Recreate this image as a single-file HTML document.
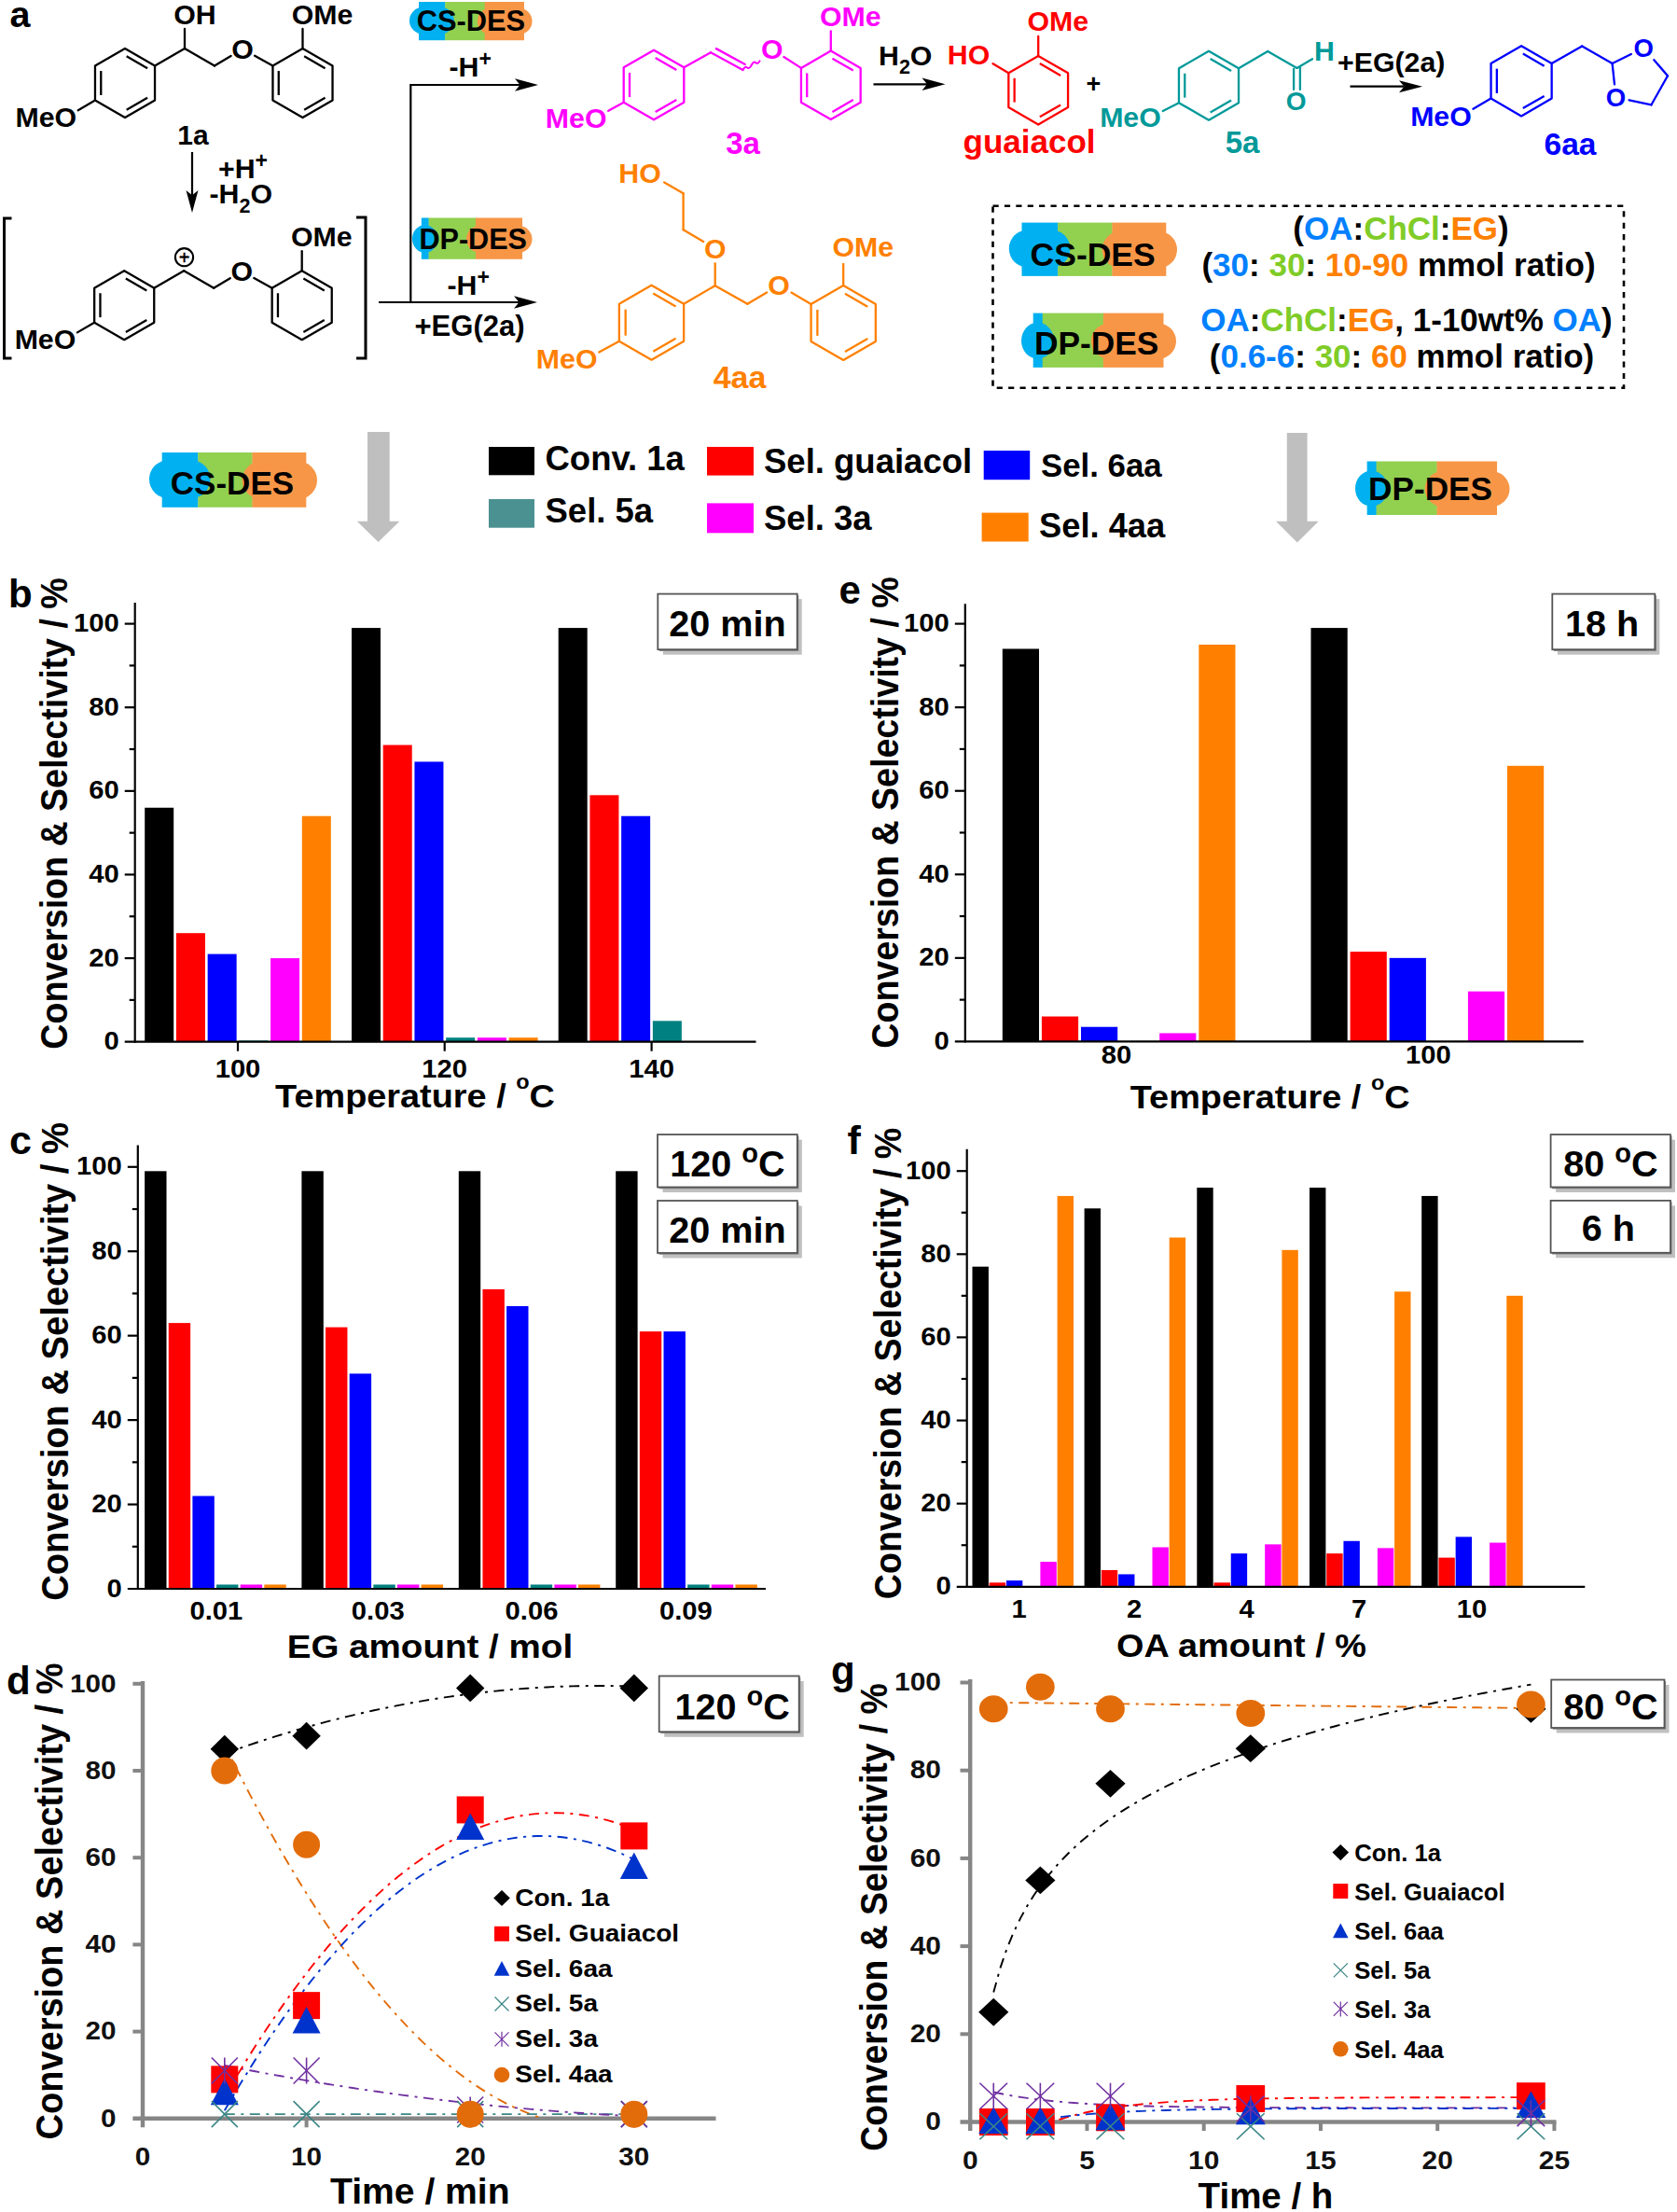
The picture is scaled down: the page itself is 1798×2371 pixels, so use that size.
<!DOCTYPE html>
<html><head><meta charset="utf-8"><title>Figure</title>
<style>
html,body{margin:0;padding:0;background:#fff;}
body{width:1798px;height:2371px;overflow:hidden;}
svg{display:block;font-family:'Liberation Sans', sans-serif;font-weight:bold;}
</style></head><body>
<svg width="1798" height="2371" viewBox="0 0 1798 2371">
<rect x="0" y="0" width="1798" height="2371" fill="#fff"/>
<polygon points="134,52 166.04,70.5 166.04,107.5 134,126 101.96,107.5 101.96,70.5" fill="none" stroke="#000" stroke-width="2.3" stroke-linejoin="round"/>
<line x1="135.66" y1="60.23" x2="158.09" y2="73.18" stroke="#000" stroke-width="2.3" stroke-linecap="butt" />
<line x1="158.09" y1="104.82" x2="135.66" y2="117.77" stroke="#000" stroke-width="2.3" stroke-linecap="butt" />
<line x1="108.26" y1="101.95" x2="108.26" y2="76.05" stroke="#000" stroke-width="2.3" stroke-linecap="butt" />
<line x1="166.04" y1="70.5" x2="198" y2="52" stroke="#000" stroke-width="2.3" stroke-linecap="round" />
<line x1="198" y1="52" x2="230" y2="70.5" stroke="#000" stroke-width="2.3" stroke-linecap="round" />
<line x1="230" y1="70.5" x2="247.57" y2="59.96" stroke="#000" stroke-width="2.3" stroke-linecap="round" />
<polygon points="324.5,52 356.54,70.5 356.54,107.5 324.5,126 292.46,107.5 292.46,70.5" fill="none" stroke="#000" stroke-width="2.3" stroke-linejoin="round"/>
<line x1="326.16" y1="60.23" x2="348.59" y2="73.18" stroke="#000" stroke-width="2.3" stroke-linecap="butt" />
<line x1="348.59" y1="104.82" x2="326.16" y2="117.77" stroke="#000" stroke-width="2.3" stroke-linecap="butt" />
<line x1="298.76" y1="101.95" x2="298.76" y2="76.05" stroke="#000" stroke-width="2.3" stroke-linecap="butt" />
<line x1="273.12" y1="59.77" x2="292.46" y2="70.5" stroke="#000" stroke-width="2.3" stroke-linecap="round" />
<text transform="translate(248.21,62.95)" font-size="30.3" fill="#000" text-anchor="start" font-weight="bold" >O</text>
<line x1="324.5" y1="52" x2="324.5" y2="31" stroke="#000" stroke-width="2.3" stroke-linecap="round" />
<text transform="translate(312.71,25.95)" font-size="30.3" fill="#000" text-anchor="start" font-weight="bold" >OMe</text>
<line x1="101.96" y1="107.5" x2="83.68" y2="118.18" stroke="#000" stroke-width="2.3" stroke-linecap="round" />
<text transform="translate(82.09,136.15)" font-size="30.3" fill="#000" text-anchor="end" font-weight="bold" >MeO</text>
<line x1="198" y1="52" x2="198" y2="31" stroke="#000" stroke-width="2.3" stroke-linecap="round" />
<text transform="translate(186.21,25.95)" font-size="30.3" fill="#000" text-anchor="start" font-weight="bold" >OH</text>
<text transform="translate(207,154.5)" font-size="30" fill="#000" text-anchor="middle" font-weight="bold" >1a</text>
<text transform="translate(10.5,28.5)" font-size="39.5" fill="#000" text-anchor="start" font-weight="bold" >a</text>
<line x1="206" y1="163" x2="206" y2="209.28" stroke="#000" stroke-width="2.2" stroke-linecap="butt" />
<polygon points="206,228 199.5,204 206,209.28 212.5,204" fill="#000"/>
<text transform="translate(234,190.5)" font-size="30.3" fill="#000" text-anchor="start" font-weight="bold" >+H<tspan dy="-11" font-size="23">+</tspan></text>
<text transform="translate(224.5,218)" font-size="30.3" fill="#000" text-anchor="start" font-weight="bold" >-H<tspan dy="9.5" font-size="21.5">2</tspan><tspan dy="-9.5">O</tspan></text>
<polygon points="133.2,290.2 165.24,308.7 165.24,345.7 133.2,364.2 101.16,345.7 101.16,308.7" fill="none" stroke="#000" stroke-width="2.3" stroke-linejoin="round"/>
<line x1="134.86" y1="298.43" x2="157.29" y2="311.38" stroke="#000" stroke-width="2.3" stroke-linecap="butt" />
<line x1="157.29" y1="343.02" x2="134.86" y2="355.97" stroke="#000" stroke-width="2.3" stroke-linecap="butt" />
<line x1="107.46" y1="340.15" x2="107.46" y2="314.25" stroke="#000" stroke-width="2.3" stroke-linecap="butt" />
<line x1="165.24" y1="308.7" x2="197.2" y2="290.2" stroke="#000" stroke-width="2.3" stroke-linecap="round" />
<line x1="197.2" y1="290.2" x2="229.2" y2="308.7" stroke="#000" stroke-width="2.3" stroke-linecap="round" />
<line x1="229.2" y1="308.7" x2="246.77" y2="298.16" stroke="#000" stroke-width="2.3" stroke-linecap="round" />
<polygon points="323.7,290.2 355.74,308.7 355.74,345.7 323.7,364.2 291.66,345.7 291.66,308.7" fill="none" stroke="#000" stroke-width="2.3" stroke-linejoin="round"/>
<line x1="325.36" y1="298.43" x2="347.79" y2="311.38" stroke="#000" stroke-width="2.3" stroke-linecap="butt" />
<line x1="347.79" y1="343.02" x2="325.36" y2="355.97" stroke="#000" stroke-width="2.3" stroke-linecap="butt" />
<line x1="297.96" y1="340.15" x2="297.96" y2="314.25" stroke="#000" stroke-width="2.3" stroke-linecap="butt" />
<line x1="272.32" y1="297.97" x2="291.66" y2="308.7" stroke="#000" stroke-width="2.3" stroke-linecap="round" />
<text transform="translate(247.41,301.15)" font-size="30.3" fill="#000" text-anchor="start" font-weight="bold" >O</text>
<line x1="323.7" y1="290.2" x2="323.7" y2="269.2" stroke="#000" stroke-width="2.3" stroke-linecap="round" />
<text transform="translate(311.91,264.15)" font-size="30.3" fill="#000" text-anchor="start" font-weight="bold" >OMe</text>
<line x1="101.16" y1="345.7" x2="82.88" y2="356.38" stroke="#000" stroke-width="2.3" stroke-linecap="round" />
<text transform="translate(81.29,374.35)" font-size="30.3" fill="#000" text-anchor="end" font-weight="bold" >MeO</text>
<circle cx="197.5" cy="275.7" r="9.6" fill="none" stroke="#000" stroke-width="2.1"/>
<text transform="translate(197.5,282.6)" font-size="20" fill="#000" text-anchor="middle" font-weight="normal" stroke="#000" stroke-width="0.5">+</text>
<polyline points="12.5,234 4.5,234 4.5,384 12.5,384" fill="none" stroke="#000" stroke-width="3" stroke-linejoin="miter"/>
<polyline points="382,233 392,233 392,384 382,384" fill="none" stroke="#000" stroke-width="3" stroke-linejoin="miter"/>
<line x1="406" y1="324" x2="440" y2="324" stroke="#000" stroke-width="2.2" stroke-linecap="butt" />
<line x1="440" y1="324" x2="556.5" y2="324" stroke="#000" stroke-width="2.2" stroke-linecap="butt" />
<polygon points="576,324 551,330.7 556.5,324 551,317.3" fill="#000"/>
<polyline points="440.3,325 440.3,91 470,91" fill="none" stroke="#000" stroke-width="2.2" stroke-linejoin="miter"/>
<line x1="465" y1="91" x2="557.5" y2="91" stroke="#000" stroke-width="2.2" stroke-linecap="butt" />
<polygon points="577,91 552,97.7 557.5,91 552,84.3" fill="#000"/>
<text transform="translate(481.5,82)" font-size="30.3" fill="#000" text-anchor="start" font-weight="bold" >-H<tspan dy="-11" font-size="23">+</tspan></text>
<text transform="translate(479.5,315.5)" font-size="30.3" fill="#000" text-anchor="start" font-weight="bold" >-H<tspan dy="-11" font-size="23">+</tspan></text>
<text transform="translate(444.5,360)" font-size="31" fill="#000" text-anchor="start" font-weight="bold" >+EG(2a)</text>
<polygon points="701,53.7 733.3,72.35 733.3,109.65 701,128.3 668.7,109.65 668.7,72.35" fill="none" stroke="#FF00FF" stroke-width="2.3" stroke-linejoin="round"/>
<line x1="702.7" y1="61.95" x2="725.31" y2="75.01" stroke="#FF00FF" stroke-width="2.3" stroke-linecap="butt" />
<line x1="725.31" y1="106.99" x2="702.7" y2="120.05" stroke="#FF00FF" stroke-width="2.3" stroke-linecap="butt" />
<line x1="675" y1="104.05" x2="675" y2="77.94" stroke="#FF00FF" stroke-width="2.3" stroke-linecap="butt" />
<line x1="733.3" y1="72.35" x2="762" y2="56.3" stroke="#FF00FF" stroke-width="2.3" stroke-linecap="round" />
<line x1="762" y1="56.3" x2="796.5" y2="75" stroke="#FF00FF" stroke-width="2.3" stroke-linecap="round" />
<line x1="767.84" y1="52.13" x2="798.82" y2="68.92" stroke="#FF00FF" stroke-width="2.3" stroke-linecap="round" />
<path d="M796.5,75 q2.2,-4.6 4.6,-2.6 t4.6,-2.6 t4.6,-2.6 t4.6,-2.6" fill="none" stroke="#FF00FF" stroke-width="2"/>
<polygon points="890.8,54.5 922.67,72.9 922.67,109.7 890.8,128.1 858.93,109.7 858.93,72.9" fill="none" stroke="#FF00FF" stroke-width="2.3" stroke-linejoin="round"/>
<line x1="892.43" y1="62.72" x2="914.74" y2="75.6" stroke="#FF00FF" stroke-width="2.3" stroke-linecap="butt" />
<line x1="914.74" y1="107" x2="892.43" y2="119.88" stroke="#FF00FF" stroke-width="2.3" stroke-linecap="butt" />
<line x1="865.23" y1="104.18" x2="865.23" y2="78.42" stroke="#FF00FF" stroke-width="2.3" stroke-linecap="butt" />
<line x1="840.42" y1="61.01" x2="858.93" y2="72.9" stroke="#FF00FF" stroke-width="2.3" stroke-linecap="round" />
<text transform="translate(816.01,63.35)" font-size="30.3" fill="#FF00FF" text-anchor="start" font-weight="bold" >O</text>
<line x1="890.8" y1="54.5" x2="890.8" y2="33.5" stroke="#FF00FF" stroke-width="2.3" stroke-linecap="round" />
<text transform="translate(879.01,27.65)" font-size="30.3" fill="#FF00FF" text-anchor="start" font-weight="bold" >OMe</text>
<line x1="668.7" y1="109.65" x2="652.23" y2="118.84" stroke="#FF00FF" stroke-width="2.3" stroke-linecap="round" />
<text transform="translate(650.49,136.55)" font-size="30.3" fill="#FF00FF" text-anchor="end" font-weight="bold" >MeO</text>
<text transform="translate(796.5,164.8)" font-size="33" fill="#FF00FF" text-anchor="middle" font-weight="bold" >3a</text>
<line x1="936.5" y1="90.3" x2="994" y2="90.3" stroke="#000" stroke-width="2.2" stroke-linecap="butt" />
<polygon points="1013.5,90.3 988.5,97 994,90.3 988.5,83.6" fill="#000"/>
<text transform="translate(942,69.8)" font-size="30.3" fill="#000" text-anchor="start" font-weight="bold" >H<tspan dy="9.5" font-size="21.5">2</tspan><tspan dy="-9.5">O</tspan></text>
<polygon points="1113.2,59.9 1145.07,78.3 1145.07,115.1 1113.2,133.5 1081.33,115.1 1081.33,78.3" fill="none" stroke="#FF0000" stroke-width="2.3" stroke-linejoin="round"/>
<line x1="1114.83" y1="68.12" x2="1137.14" y2="81" stroke="#FF0000" stroke-width="2.3" stroke-linecap="butt" />
<line x1="1137.14" y1="112.4" x2="1114.83" y2="125.28" stroke="#FF0000" stroke-width="2.3" stroke-linecap="butt" />
<line x1="1087.63" y1="109.58" x2="1087.63" y2="83.82" stroke="#FF0000" stroke-width="2.3" stroke-linecap="butt" />
<line x1="1113.2" y1="59.9" x2="1113.2" y2="38.9" stroke="#FF0000" stroke-width="2.3" stroke-linecap="round" />
<text transform="translate(1101.41,32.85)" font-size="30.3" fill="#FF0000" text-anchor="start" font-weight="bold" >OMe</text>
<line x1="1081.33" y1="78.3" x2="1064.51" y2="68.2" stroke="#FF0000" stroke-width="2.3" stroke-linecap="round" />
<text transform="translate(1061.29,69.35)" font-size="30.3" fill="#FF0000" text-anchor="end" font-weight="bold" >HO</text>
<text transform="translate(1103.5,163.5)" font-size="35" fill="#FF0000" text-anchor="middle" font-weight="bold" >guaiacol</text>
<text transform="translate(1172.5,99)" font-size="27" fill="#000" text-anchor="middle" font-weight="bold" >+</text>
<polygon points="1296,54.7 1328.04,73.2 1328.04,110.2 1296,128.7 1263.96,110.2 1263.96,73.2" fill="none" stroke="#009999" stroke-width="2.3" stroke-linejoin="round"/>
<line x1="1297.66" y1="62.93" x2="1320.09" y2="75.88" stroke="#009999" stroke-width="2.3" stroke-linecap="butt" />
<line x1="1320.09" y1="107.52" x2="1297.66" y2="120.47" stroke="#009999" stroke-width="2.3" stroke-linecap="butt" />
<line x1="1270.26" y1="104.65" x2="1270.26" y2="78.75" stroke="#009999" stroke-width="2.3" stroke-linecap="butt" />
<line x1="1328.04" y1="73.2" x2="1359.2" y2="55" stroke="#009999" stroke-width="2.3" stroke-linecap="round" />
<line x1="1359.2" y1="55" x2="1390.5" y2="72.9" stroke="#009999" stroke-width="2.3" stroke-linecap="round" />
<line x1="1387.1" y1="73.9" x2="1387.1" y2="95.9" stroke="#009999" stroke-width="2.3" stroke-linecap="round" />
<line x1="1393.9" y1="71.9" x2="1393.9" y2="95.9" stroke="#009999" stroke-width="2.3" stroke-linecap="round" />
<text transform="translate(1378.81,117.96)" font-size="28" fill="#009999" text-anchor="start" font-weight="bold" >O</text>
<line x1="1390.5" y1="72.9" x2="1407" y2="63.3" stroke="#009999" stroke-width="2.3" stroke-linecap="round" />
<text transform="translate(1409,64.5)" font-size="30.3" fill="#009999" text-anchor="start" font-weight="bold" >H</text>
<line x1="1263.96" y1="110.2" x2="1246.77" y2="119.08" stroke="#009999" stroke-width="2.3" stroke-linecap="round" />
<text transform="translate(1244.79,136.35)" font-size="30.3" fill="#009999" text-anchor="end" font-weight="bold" >MeO</text>
<text transform="translate(1332,164.3)" font-size="33" fill="#009999" text-anchor="middle" font-weight="bold" >5a</text>
<text transform="translate(1434,76.5)" font-size="30.3" fill="#000" text-anchor="start" font-weight="bold" >+EG(2a)</text>
<line x1="1447.5" y1="92.7" x2="1505.5" y2="92.7" stroke="#000" stroke-width="2.2" stroke-linecap="butt" />
<polygon points="1525,92.7 1500,99.2 1505.5,92.7 1500,86.2" fill="#000"/>
<polygon points="1631.1,49.2 1663.66,68 1663.66,105.6 1631.1,124.4 1598.54,105.6 1598.54,68" fill="none" stroke="#0000FF" stroke-width="2.3" stroke-linejoin="round"/>
<line x1="1632.83" y1="57.48" x2="1655.63" y2="70.64" stroke="#0000FF" stroke-width="2.3" stroke-linecap="butt" />
<line x1="1655.63" y1="102.96" x2="1632.83" y2="116.12" stroke="#0000FF" stroke-width="2.3" stroke-linecap="butt" />
<line x1="1604.84" y1="99.96" x2="1604.84" y2="73.64" stroke="#0000FF" stroke-width="2.3" stroke-linecap="butt" />
<line x1="1663.66" y1="68" x2="1696.2" y2="49.5" stroke="#0000FF" stroke-width="2.3" stroke-linecap="round" />
<line x1="1696.2" y1="49.5" x2="1728.6" y2="68" stroke="#0000FF" stroke-width="2.3" stroke-linecap="round" />
<line x1="1728.6" y1="68" x2="1748.86" y2="57.96" stroke="#0000FF" stroke-width="2.3" stroke-linecap="round" />
<line x1="1728.6" y1="68" x2="1731" y2="90.38" stroke="#0000FF" stroke-width="2.3" stroke-linecap="round" />
<line x1="1773.36" y1="64.21" x2="1788" y2="81.3" stroke="#0000FF" stroke-width="2.3" stroke-linecap="round" />
<line x1="1788" y1="81.3" x2="1770.5" y2="112.3" stroke="#0000FF" stroke-width="2.3" stroke-linecap="round" />
<line x1="1746.69" y1="107.29" x2="1770.5" y2="112.3" stroke="#0000FF" stroke-width="2.3" stroke-linecap="round" />
<text transform="translate(1751.6,60.79)" font-size="27.5" fill="#0000FF" text-anchor="start" font-weight="bold" >O</text>
<text transform="translate(1721.8,113.79)" font-size="27.5" fill="#0000FF" text-anchor="start" font-weight="bold" >O</text>
<line x1="1598.54" y1="105.6" x2="1579.4" y2="116.71" stroke="#0000FF" stroke-width="2.3" stroke-linecap="round" />
<text transform="translate(1577.79,134.65)" font-size="30.3" fill="#0000FF" text-anchor="end" font-weight="bold" >MeO</text>
<text transform="translate(1683.5,165.5)" font-size="33.5" fill="#0000FF" text-anchor="middle" font-weight="bold" >6aa</text>
<polygon points="698.5,305.7 733.14,325.7 733.14,365.7 698.5,385.7 663.86,365.7 663.86,325.7" fill="none" stroke="#FF8000" stroke-width="2.3" stroke-linejoin="round"/>
<line x1="700.3" y1="314.59" x2="724.54" y2="328.59" stroke="#FF8000" stroke-width="2.3" stroke-linecap="butt" />
<line x1="724.54" y1="362.81" x2="700.3" y2="376.81" stroke="#FF8000" stroke-width="2.3" stroke-linecap="butt" />
<line x1="670.66" y1="359.7" x2="670.66" y2="331.7" stroke="#FF8000" stroke-width="2.3" stroke-linecap="butt" />
<line x1="733.14" y1="325.7" x2="766.7" y2="306.2" stroke="#FF8000" stroke-width="2.3" stroke-linecap="round" />
<line x1="766.7" y1="306.2" x2="766.7" y2="282.3" stroke="#FF8000" stroke-width="2.3" stroke-linecap="round" />
<text transform="translate(754.91,276.75)" font-size="30.3" fill="#FF8000" text-anchor="start" font-weight="bold" >O</text>
<line x1="754.19" y1="258.96" x2="732.6" y2="246.3" stroke="#FF8000" stroke-width="2.3" stroke-linecap="round" />
<line x1="732.6" y1="246.3" x2="732.6" y2="207.2" stroke="#FF8000" stroke-width="2.3" stroke-linecap="round" />
<line x1="732.6" y1="207.2" x2="712.17" y2="195.43" stroke="#FF8000" stroke-width="2.3" stroke-linecap="round" />
<text transform="translate(708.79,196.35)" font-size="30.3" fill="#FF8000" text-anchor="end" font-weight="bold" >HO</text>
<line x1="766.7" y1="306.2" x2="801.4" y2="325.8" stroke="#FF8000" stroke-width="2.3" stroke-linecap="round" />
<line x1="801.4" y1="325.8" x2="822.11" y2="313.47" stroke="#FF8000" stroke-width="2.3" stroke-linecap="round" />
<text transform="translate(823.21,316.25)" font-size="30.3" fill="#FF8000" text-anchor="start" font-weight="bold" >O</text>
<polygon points="904.2,305.9 938.84,325.9 938.84,365.9 904.2,385.9 869.56,365.9 869.56,325.9" fill="none" stroke="#FF8000" stroke-width="2.3" stroke-linejoin="round"/>
<line x1="906" y1="314.79" x2="930.24" y2="328.79" stroke="#FF8000" stroke-width="2.3" stroke-linecap="butt" />
<line x1="930.24" y1="363.01" x2="906" y2="377.01" stroke="#FF8000" stroke-width="2.3" stroke-linecap="butt" />
<line x1="876.36" y1="359.9" x2="876.36" y2="331.9" stroke="#FF8000" stroke-width="2.3" stroke-linecap="butt" />
<line x1="848.4" y1="313.59" x2="869.56" y2="325.9" stroke="#FF8000" stroke-width="2.3" stroke-linecap="round" />
<line x1="904.2" y1="305.9" x2="904.2" y2="282.9" stroke="#FF8000" stroke-width="2.3" stroke-linecap="round" />
<text transform="translate(892.41,275.35)" font-size="30.3" fill="#FF8000" text-anchor="start" font-weight="bold" >OMe</text>
<line x1="663.86" y1="365.7" x2="642.29" y2="377.54" stroke="#FF8000" stroke-width="2.3" stroke-linecap="round" />
<text transform="translate(640.49,395.15)" font-size="30.3" fill="#FF8000" text-anchor="end" font-weight="bold" >MeO</text>
<text transform="translate(793,416)" font-size="34" fill="#FF8000" text-anchor="middle" font-weight="bold" >4aa</text>
<rect x="449" y="2" width="28.47" height="41.2" fill="#00B0F0" stroke="none" stroke-width="0" />
<rect x="477.17" y="2" width="42.84" height="41.2" fill="#92D050" stroke="none" stroke-width="0" />
<rect x="519.71" y="2" width="42.25" height="41.2" fill="#F79646" stroke="none" stroke-width="0" />
<rect x="439" y="7.68" width="47.8" height="28.76" rx="14.38" ry="14.38" fill="#00B0F0"/>
<rect x="511.83" y="8.69" width="58.67" height="28.33" rx="14.16" ry="14.16" fill="#F79646"/>
<text transform="translate(504.96,32.75)" font-size="30.8" fill="#000" text-anchor="middle" font-weight="bold" >CS-DES</text>
<rect x="451.83" y="233.5" width="8.04" height="44.3" fill="#00B0F0" stroke="none" stroke-width="0" />
<rect x="459.57" y="233.5" width="50.69" height="44.3" fill="#92D050" stroke="none" stroke-width="0" />
<rect x="509.97" y="233.5" width="50.08" height="44.3" fill="#F79646" stroke="none" stroke-width="0" />
<rect x="442" y="241.17" width="27.09" height="29.56" rx="14.78" ry="14.78" fill="#00B0F0"/>
<rect x="499.98" y="241.93" width="70.52" height="28.8" rx="14.4" ry="14.4" fill="#F79646"/>
<text transform="translate(507.22,266.7)" font-size="30.6" fill="#000" text-anchor="middle" font-weight="bold" >DP-DES</text>
<rect x="1064.5" y="220.8" width="676.5" height="195" fill="none" stroke="#000" stroke-width="2.6" stroke-dasharray="6.2,6.2"/>
<rect x="1095.5" y="238.6" width="38.9" height="57.3" fill="#00B0F0" stroke="none" stroke-width="0" />
<rect x="1134.1" y="238.6" width="58.6" height="57.3" fill="#92D050" stroke="none" stroke-width="0" />
<rect x="1192.4" y="238.6" width="57.9" height="57.3" fill="#F79646" stroke="none" stroke-width="0" />
<rect x="1081.8" y="246.5" width="65.5" height="40" rx="20" ry="20" fill="#00B0F0"/>
<rect x="1181.6" y="247.9" width="80.4" height="39.4" rx="19.7" ry="19.7" fill="#F79646"/>
<text transform="translate(1171.66,284.75)" font-size="35.5" fill="#000" text-anchor="middle" font-weight="bold" >CS-DES</text>
<rect x="1107.7" y="335.6" width="10.3" height="58.3" fill="#00B0F0" stroke="none" stroke-width="0" />
<rect x="1117.7" y="335.6" width="65.4" height="58.3" fill="#92D050" stroke="none" stroke-width="0" />
<rect x="1182.8" y="335.6" width="64.7" height="58.3" fill="#F79646" stroke="none" stroke-width="0" />
<rect x="1095" y="345.7" width="35" height="38.9" rx="19.45" ry="19.45" fill="#00B0F0"/>
<rect x="1169.9" y="346.7" width="91.1" height="37.9" rx="18.95" ry="18.95" fill="#F79646"/>
<text transform="translate(1175.71,379.83)" font-size="35.3" fill="#000" text-anchor="middle" font-weight="bold" >DP-DES</text>
<text transform="translate(1502,256.5)" font-size="35" fill="#000" text-anchor="middle" font-weight="bold" >(<tspan fill="#0080FF">OA</tspan>:<tspan fill="#80CC28">ChCl</tspan>:<tspan fill="#FF8000">EG</tspan>)</text>
<text transform="translate(1499.5,295.5)" font-size="35" fill="#000" text-anchor="middle" font-weight="bold" >(<tspan fill="#0080FF">30</tspan>: <tspan fill="#80CC28">30</tspan>: <tspan fill="#FF8000">10-90</tspan> mmol ratio)</text>
<text transform="translate(1508,354.5)" font-size="35" fill="#000" text-anchor="middle" font-weight="bold" ><tspan fill="#0080FF">OA</tspan>:<tspan fill="#80CC28">ChCl</tspan>:<tspan fill="#FF8000">EG</tspan>, 1-10wt% <tspan fill="#0080FF">OA</tspan>)</text>
<text transform="translate(1503,394)" font-size="35" fill="#000" text-anchor="middle" font-weight="bold" >(<tspan fill="#0080FF">0.6-6</tspan>: <tspan fill="#80CC28">30</tspan>: <tspan fill="#FF8000">60</tspan> mmol ratio)</text>
<rect x="173.68" y="485" width="38.86" height="58.8" fill="#00B0F0" stroke="none" stroke-width="0" />
<rect x="212.24" y="485" width="58.54" height="58.8" fill="#92D050" stroke="none" stroke-width="0" />
<rect x="270.48" y="485" width="57.84" height="58.8" fill="#F79646" stroke="none" stroke-width="0" />
<rect x="160" y="493.11" width="65.43" height="41.05" rx="20.52" ry="20.52" fill="#00B0F0"/>
<rect x="259.69" y="494.54" width="80.31" height="40.43" rx="20.22" ry="20.22" fill="#F79646"/>
<text transform="translate(248.96,530.25)" font-size="35" fill="#000" text-anchor="middle" font-weight="bold" >CS-DES</text>
<rect x="1465.66" y="494.5" width="10.27" height="57.5" fill="#00B0F0" stroke="none" stroke-width="0" />
<rect x="1475.63" y="494.5" width="65.2" height="57.5" fill="#92D050" stroke="none" stroke-width="0" />
<rect x="1540.54" y="494.5" width="64.51" height="57.5" fill="#F79646" stroke="none" stroke-width="0" />
<rect x="1453" y="504.46" width="34.89" height="38.37" rx="19.18" ry="19.18" fill="#00B0F0"/>
<rect x="1527.67" y="505.45" width="90.83" height="37.38" rx="18.69" ry="18.69" fill="#F79646"/>
<text transform="translate(1533.57,536.34)" font-size="35.2" fill="#000" text-anchor="middle" font-weight="bold" >DP-DES</text>
<polygon points="394,463 417.7,463 417.7,558.8 428.4,558.8 405.6,581 382.8,558.8 394,558.8" fill="#BFBFBF"/>
<polygon points="1379.8,464 1401.6,464 1401.6,558.7 1413.7,558.7 1390.85,581.5 1368,558.7 1379.8,558.7" fill="#BFBFBF"/>
<rect x="524" y="479" width="49" height="30.3" fill="#000000" stroke="none" stroke-width="0" />
<text transform="translate(584.5,504.3)" font-size="36.5" fill="#000" text-anchor="start" font-weight="bold" >Conv. 1a</text>
<rect x="524" y="535" width="49" height="30.7" fill="#4B9191" stroke="none" stroke-width="0" />
<text transform="translate(584.5,560.3)" font-size="36.5" fill="#000" text-anchor="start" font-weight="bold" >Sel. 5a</text>
<rect x="758" y="479" width="50" height="30.6" fill="#FF0000" stroke="none" stroke-width="0" />
<text transform="translate(819,506.6)" font-size="36.5" fill="#000" text-anchor="start" font-weight="bold" >Sel. guaiacol</text>
<rect x="758" y="539.4" width="50" height="31.9" fill="#FF00FF" stroke="none" stroke-width="0" />
<text transform="translate(819,567.8)" font-size="36.5" fill="#000" text-anchor="start" font-weight="bold" >Sel. 3a</text>
<rect x="1054.7" y="483" width="49.5" height="31.2" fill="#0000FF" stroke="none" stroke-width="0" />
<text transform="translate(1116,510.7)" font-size="34.8" fill="#000" text-anchor="start" font-weight="bold" >Sel. 6aa</text>
<rect x="1052.6" y="549.6" width="50.1" height="30.9" fill="#FF8000" stroke="none" stroke-width="0" />
<text transform="translate(1114,576.4)" font-size="36.3" fill="#000" text-anchor="start" font-weight="bold" >Sel. 4aa</text>
<rect x="155.2" y="865.76" width="31" height="250.94" fill="#000000" stroke="none" stroke-width="0" />
<rect x="188.92" y="1000.19" width="31" height="116.51" fill="#FF0000" stroke="none" stroke-width="0" />
<rect x="222.64" y="1022.6" width="31" height="94.1" fill="#0000FF" stroke="none" stroke-width="0" />
<rect x="256.36" y="1115.36" width="31" height="1.34" fill="#008080" stroke="none" stroke-width="0" />
<rect x="290.08" y="1027.08" width="31" height="89.62" fill="#FF00FF" stroke="none" stroke-width="0" />
<rect x="323.8" y="874.73" width="31" height="241.97" fill="#FF8000" stroke="none" stroke-width="0" />
<rect x="377" y="673.08" width="31" height="443.62" fill="#000000" stroke="none" stroke-width="0" />
<rect x="410.72" y="798.55" width="31" height="318.15" fill="#FF0000" stroke="none" stroke-width="0" />
<rect x="444.44" y="816.47" width="31" height="300.23" fill="#0000FF" stroke="none" stroke-width="0" />
<rect x="478.16" y="1112.22" width="31" height="4.48" fill="#008080" stroke="none" stroke-width="0" />
<rect x="511.88" y="1112.22" width="31" height="4.48" fill="#FF00FF" stroke="none" stroke-width="0" />
<rect x="545.6" y="1112.22" width="31" height="4.48" fill="#FF8000" stroke="none" stroke-width="0" />
<rect x="598.7" y="673.08" width="31" height="443.62" fill="#000000" stroke="none" stroke-width="0" />
<rect x="632.42" y="852.32" width="31" height="264.38" fill="#FF0000" stroke="none" stroke-width="0" />
<rect x="666.14" y="874.73" width="31" height="241.97" fill="#0000FF" stroke="none" stroke-width="0" />
<rect x="699.86" y="1094.3" width="31" height="22.4" fill="#008080" stroke="none" stroke-width="0" />
<line x1="144.7" y1="646" x2="144.7" y2="1117.8" stroke="#000" stroke-width="2.2" stroke-linecap="butt" />
<line x1="133.7" y1="1116.7" x2="810.5" y2="1116.7" stroke="#000" stroke-width="2.2" stroke-linecap="butt" />
<text transform="translate(127.7,1125.2) scale(1.07,1)" font-size="27.3" fill="#000" text-anchor="end" font-weight="bold" >0</text>
<line x1="138.7" y1="1071.89" x2="144.7" y2="1071.89" stroke="#000" stroke-width="2.2" stroke-linecap="butt" />
<line x1="133.7" y1="1027.08" x2="144.7" y2="1027.08" stroke="#000" stroke-width="2.2" stroke-linecap="butt" />
<text transform="translate(127.7,1035.58) scale(1.07,1)" font-size="27.3" fill="#000" text-anchor="end" font-weight="bold" >20</text>
<line x1="138.7" y1="982.27" x2="144.7" y2="982.27" stroke="#000" stroke-width="2.2" stroke-linecap="butt" />
<line x1="133.7" y1="937.46" x2="144.7" y2="937.46" stroke="#000" stroke-width="2.2" stroke-linecap="butt" />
<text transform="translate(127.7,945.96) scale(1.07,1)" font-size="27.3" fill="#000" text-anchor="end" font-weight="bold" >40</text>
<line x1="138.7" y1="892.65" x2="144.7" y2="892.65" stroke="#000" stroke-width="2.2" stroke-linecap="butt" />
<line x1="133.7" y1="847.84" x2="144.7" y2="847.84" stroke="#000" stroke-width="2.2" stroke-linecap="butt" />
<text transform="translate(127.7,856.34) scale(1.07,1)" font-size="27.3" fill="#000" text-anchor="end" font-weight="bold" >60</text>
<line x1="138.7" y1="803.03" x2="144.7" y2="803.03" stroke="#000" stroke-width="2.2" stroke-linecap="butt" />
<line x1="133.7" y1="758.22" x2="144.7" y2="758.22" stroke="#000" stroke-width="2.2" stroke-linecap="butt" />
<text transform="translate(127.7,766.72) scale(1.07,1)" font-size="27.3" fill="#000" text-anchor="end" font-weight="bold" >80</text>
<line x1="138.7" y1="713.41" x2="144.7" y2="713.41" stroke="#000" stroke-width="2.2" stroke-linecap="butt" />
<line x1="133.7" y1="668.6" x2="144.7" y2="668.6" stroke="#000" stroke-width="2.2" stroke-linecap="butt" />
<text transform="translate(127.7,677.1) scale(1.07,1)" font-size="27.3" fill="#000" text-anchor="end" font-weight="bold" >100</text>
<line x1="255" y1="1116.7" x2="255" y2="1126.7" stroke="#000" stroke-width="2.2" stroke-linecap="butt" />
<text transform="translate(255,1155.2) scale(1.07,1)" font-size="27.3" fill="#000" text-anchor="middle" font-weight="bold" >100</text>
<line x1="476.7" y1="1116.7" x2="476.7" y2="1126.7" stroke="#000" stroke-width="2.2" stroke-linecap="butt" />
<text transform="translate(476.7,1155.2) scale(1.07,1)" font-size="27.3" fill="#000" text-anchor="middle" font-weight="bold" >120</text>
<line x1="698.6" y1="1116.7" x2="698.6" y2="1126.7" stroke="#000" stroke-width="2.2" stroke-linecap="butt" />
<text transform="translate(698.6,1155.2) scale(1.07,1)" font-size="27.3" fill="#000" text-anchor="middle" font-weight="bold" >140</text>
<text transform="translate(72.4,872) rotate(-90) scale(1,1.07)" font-size="37.6" fill="#000" text-anchor="middle" font-weight="bold" >Conversion &amp; Selectivity / %</text>
<text transform="translate(445,1187.3) scale(1.07,1)" font-size="35.4" fill="#000" text-anchor="middle" font-weight="bold" >Temperature / <tspan dy="-20" font-size="22">o</tspan><tspan dy="20">C</tspan></text>
<rect x="710.8" y="642.1" width="148.9" height="59.6" fill="#C0C0C0" stroke="none" stroke-width="0" />
<rect x="706.8" y="638.1" width="149.5" height="59.9" fill="#8A8A8A" stroke="none" stroke-width="0" />
<rect x="705.3" y="636.6" width="149.4" height="59.6" fill="#FFFFFF" stroke="#555555" stroke-width="1.8" />
<text transform="translate(780,682.06)" font-size="39.6" fill="#000" text-anchor="middle" font-weight="bold" >20 min</text>
<text transform="translate(9,651.3)" font-size="42" fill="#000" text-anchor="start" font-weight="bold" >b</text>
<rect x="155.1" y="1255.32" width="23.4" height="447.68" fill="#000000" stroke="none" stroke-width="0" />
<rect x="180.75" y="1418.11" width="23.4" height="284.89" fill="#FF0000" stroke="none" stroke-width="0" />
<rect x="206.4" y="1603.52" width="23.4" height="99.48" fill="#0000FF" stroke="none" stroke-width="0" />
<rect x="232.05" y="1698.48" width="23.4" height="4.52" fill="#008080" stroke="none" stroke-width="0" />
<rect x="257.7" y="1698.48" width="23.4" height="4.52" fill="#FF00FF" stroke="none" stroke-width="0" />
<rect x="283.35" y="1698.48" width="23.4" height="4.52" fill="#FF8000" stroke="none" stroke-width="0" />
<rect x="323.4" y="1255.32" width="23.4" height="447.68" fill="#000000" stroke="none" stroke-width="0" />
<rect x="349.05" y="1422.64" width="23.4" height="280.36" fill="#FF0000" stroke="none" stroke-width="0" />
<rect x="374.7" y="1472.38" width="23.4" height="230.62" fill="#0000FF" stroke="none" stroke-width="0" />
<rect x="400.35" y="1698.48" width="23.4" height="4.52" fill="#008080" stroke="none" stroke-width="0" />
<rect x="426" y="1698.48" width="23.4" height="4.52" fill="#FF00FF" stroke="none" stroke-width="0" />
<rect x="451.65" y="1698.48" width="23.4" height="4.52" fill="#FF8000" stroke="none" stroke-width="0" />
<rect x="491.8" y="1255.32" width="23.4" height="447.68" fill="#000000" stroke="none" stroke-width="0" />
<rect x="517.45" y="1381.94" width="23.4" height="321.06" fill="#FF0000" stroke="none" stroke-width="0" />
<rect x="543.1" y="1400.03" width="23.4" height="302.97" fill="#0000FF" stroke="none" stroke-width="0" />
<rect x="568.75" y="1698.48" width="23.4" height="4.52" fill="#008080" stroke="none" stroke-width="0" />
<rect x="594.4" y="1698.48" width="23.4" height="4.52" fill="#FF00FF" stroke="none" stroke-width="0" />
<rect x="620.05" y="1698.48" width="23.4" height="4.52" fill="#FF8000" stroke="none" stroke-width="0" />
<rect x="660.2" y="1255.32" width="23.4" height="447.68" fill="#000000" stroke="none" stroke-width="0" />
<rect x="685.85" y="1427.16" width="23.4" height="275.84" fill="#FF0000" stroke="none" stroke-width="0" />
<rect x="711.5" y="1427.16" width="23.4" height="275.84" fill="#0000FF" stroke="none" stroke-width="0" />
<rect x="737.15" y="1698.48" width="23.4" height="4.52" fill="#008080" stroke="none" stroke-width="0" />
<rect x="762.8" y="1698.48" width="23.4" height="4.52" fill="#FF00FF" stroke="none" stroke-width="0" />
<rect x="788.45" y="1698.48" width="23.4" height="4.52" fill="#FF8000" stroke="none" stroke-width="0" />
<line x1="147.8" y1="1227.6" x2="147.8" y2="1704.1" stroke="#000" stroke-width="2.2" stroke-linecap="butt" />
<line x1="136.8" y1="1703" x2="821" y2="1703" stroke="#000" stroke-width="2.2" stroke-linecap="butt" />
<text transform="translate(130.8,1711.5) scale(1.07,1)" font-size="27.3" fill="#000" text-anchor="end" font-weight="bold" >0</text>
<line x1="141.8" y1="1657.78" x2="147.8" y2="1657.78" stroke="#000" stroke-width="2.2" stroke-linecap="butt" />
<line x1="136.8" y1="1612.56" x2="147.8" y2="1612.56" stroke="#000" stroke-width="2.2" stroke-linecap="butt" />
<text transform="translate(130.8,1621.06) scale(1.07,1)" font-size="27.3" fill="#000" text-anchor="end" font-weight="bold" >20</text>
<line x1="141.8" y1="1567.34" x2="147.8" y2="1567.34" stroke="#000" stroke-width="2.2" stroke-linecap="butt" />
<line x1="136.8" y1="1522.12" x2="147.8" y2="1522.12" stroke="#000" stroke-width="2.2" stroke-linecap="butt" />
<text transform="translate(130.8,1530.62) scale(1.07,1)" font-size="27.3" fill="#000" text-anchor="end" font-weight="bold" >40</text>
<line x1="141.8" y1="1476.9" x2="147.8" y2="1476.9" stroke="#000" stroke-width="2.2" stroke-linecap="butt" />
<line x1="136.8" y1="1431.68" x2="147.8" y2="1431.68" stroke="#000" stroke-width="2.2" stroke-linecap="butt" />
<text transform="translate(130.8,1440.18) scale(1.07,1)" font-size="27.3" fill="#000" text-anchor="end" font-weight="bold" >60</text>
<line x1="141.8" y1="1386.46" x2="147.8" y2="1386.46" stroke="#000" stroke-width="2.2" stroke-linecap="butt" />
<line x1="136.8" y1="1341.24" x2="147.8" y2="1341.24" stroke="#000" stroke-width="2.2" stroke-linecap="butt" />
<text transform="translate(130.8,1349.74) scale(1.07,1)" font-size="27.3" fill="#000" text-anchor="end" font-weight="bold" >80</text>
<line x1="141.8" y1="1296.02" x2="147.8" y2="1296.02" stroke="#000" stroke-width="2.2" stroke-linecap="butt" />
<line x1="136.8" y1="1250.8" x2="147.8" y2="1250.8" stroke="#000" stroke-width="2.2" stroke-linecap="butt" />
<text transform="translate(130.8,1259.3) scale(1.07,1)" font-size="27.3" fill="#000" text-anchor="end" font-weight="bold" >100</text>
<text transform="translate(231.8,1735.5) scale(1.07,1)" font-size="27.3" fill="#000" text-anchor="middle" font-weight="bold" >0.01</text>
<text transform="translate(405.2,1735.5) scale(1.07,1)" font-size="27.3" fill="#000" text-anchor="middle" font-weight="bold" >0.03</text>
<text transform="translate(570,1735.5) scale(1.07,1)" font-size="27.3" fill="#000" text-anchor="middle" font-weight="bold" >0.06</text>
<text transform="translate(735.3,1735.5) scale(1.07,1)" font-size="27.3" fill="#000" text-anchor="middle" font-weight="bold" >0.09</text>
<text transform="translate(72.6,1459.5) rotate(-90) scale(1,1.07)" font-size="38.12" fill="#000" text-anchor="middle" font-weight="bold" >Conversion &amp; Selectivity / %</text>
<text transform="translate(460.9,1776.9) scale(1.09,1)" font-size="35.4" fill="#000" text-anchor="middle" font-weight="bold" >EG amount / mol</text>
<rect x="710.5" y="1221.6" width="149.3" height="56.4" fill="#C0C0C0" stroke="none" stroke-width="0" />
<rect x="706.5" y="1217.6" width="149.9" height="56.7" fill="#8A8A8A" stroke="none" stroke-width="0" />
<rect x="705" y="1216.1" width="149.8" height="56.4" fill="#FFFFFF" stroke="#555555" stroke-width="1.8" />
<text transform="translate(779.9,1261.26)" font-size="39.6" fill="#000" text-anchor="middle" font-weight="bold" >120 <tspan dy="-15" font-size="29">o</tspan><tspan dy="15">C</tspan></text>
<rect x="710.5" y="1292.5" width="149.3" height="56" fill="#C0C0C0" stroke="none" stroke-width="0" />
<rect x="706.5" y="1288.5" width="149.9" height="56.3" fill="#8A8A8A" stroke="none" stroke-width="0" />
<rect x="705" y="1287" width="149.8" height="56" fill="#FFFFFF" stroke="#555555" stroke-width="1.8" />
<text transform="translate(779.9,1331.96)" font-size="39.6" fill="#000" text-anchor="middle" font-weight="bold" >20 min</text>
<text transform="translate(10,1237)" font-size="43" fill="#000" text-anchor="start" font-weight="bold" >c</text>
<rect x="1074.8" y="695.47" width="39.2" height="420.93" fill="#000000" stroke="none" stroke-width="0" />
<rect x="1116.9" y="1089.53" width="39.2" height="26.87" fill="#FF0000" stroke="none" stroke-width="0" />
<rect x="1159" y="1100.73" width="39.2" height="15.67" fill="#0000FF" stroke="none" stroke-width="0" />
<rect x="1243.2" y="1107.44" width="39.2" height="8.96" fill="#FF00FF" stroke="none" stroke-width="0" />
<rect x="1285.3" y="690.99" width="39.2" height="425.41" fill="#FF8000" stroke="none" stroke-width="0" />
<rect x="1405.5" y="673.08" width="39.2" height="443.32" fill="#000000" stroke="none" stroke-width="0" />
<rect x="1447.6" y="1020.12" width="39.2" height="96.28" fill="#FF0000" stroke="none" stroke-width="0" />
<rect x="1489.7" y="1026.84" width="39.2" height="89.56" fill="#0000FF" stroke="none" stroke-width="0" />
<rect x="1573.9" y="1062.66" width="39.2" height="53.74" fill="#FF00FF" stroke="none" stroke-width="0" />
<rect x="1616" y="820.85" width="39.2" height="295.55" fill="#FF8000" stroke="none" stroke-width="0" />
<line x1="1034.8" y1="647.2" x2="1034.8" y2="1117.5" stroke="#000" stroke-width="2.2" stroke-linecap="butt" />
<line x1="1023.8" y1="1116.4" x2="1697.7" y2="1116.4" stroke="#000" stroke-width="2.2" stroke-linecap="butt" />
<text transform="translate(1017.8,1124.9) scale(1.07,1)" font-size="27.3" fill="#000" text-anchor="end" font-weight="bold" >0</text>
<line x1="1028.8" y1="1071.62" x2="1034.8" y2="1071.62" stroke="#000" stroke-width="2.2" stroke-linecap="butt" />
<line x1="1023.8" y1="1026.84" x2="1034.8" y2="1026.84" stroke="#000" stroke-width="2.2" stroke-linecap="butt" />
<text transform="translate(1017.8,1035.34) scale(1.07,1)" font-size="27.3" fill="#000" text-anchor="end" font-weight="bold" >20</text>
<line x1="1028.8" y1="982.06" x2="1034.8" y2="982.06" stroke="#000" stroke-width="2.2" stroke-linecap="butt" />
<line x1="1023.8" y1="937.28" x2="1034.8" y2="937.28" stroke="#000" stroke-width="2.2" stroke-linecap="butt" />
<text transform="translate(1017.8,945.78) scale(1.07,1)" font-size="27.3" fill="#000" text-anchor="end" font-weight="bold" >40</text>
<line x1="1028.8" y1="892.5" x2="1034.8" y2="892.5" stroke="#000" stroke-width="2.2" stroke-linecap="butt" />
<line x1="1023.8" y1="847.72" x2="1034.8" y2="847.72" stroke="#000" stroke-width="2.2" stroke-linecap="butt" />
<text transform="translate(1017.8,856.22) scale(1.07,1)" font-size="27.3" fill="#000" text-anchor="end" font-weight="bold" >60</text>
<line x1="1028.8" y1="802.94" x2="1034.8" y2="802.94" stroke="#000" stroke-width="2.2" stroke-linecap="butt" />
<line x1="1023.8" y1="758.16" x2="1034.8" y2="758.16" stroke="#000" stroke-width="2.2" stroke-linecap="butt" />
<text transform="translate(1017.8,766.66) scale(1.07,1)" font-size="27.3" fill="#000" text-anchor="end" font-weight="bold" >80</text>
<line x1="1028.8" y1="713.38" x2="1034.8" y2="713.38" stroke="#000" stroke-width="2.2" stroke-linecap="butt" />
<line x1="1023.8" y1="668.6" x2="1034.8" y2="668.6" stroke="#000" stroke-width="2.2" stroke-linecap="butt" />
<text transform="translate(1017.8,677.1) scale(1.07,1)" font-size="27.3" fill="#000" text-anchor="end" font-weight="bold" >100</text>
<text transform="translate(1197,1140.4) scale(1.07,1)" font-size="27.3" fill="#000" text-anchor="middle" font-weight="bold" >80</text>
<text transform="translate(1531.3,1140.4) scale(1.07,1)" font-size="27.3" fill="#000" text-anchor="middle" font-weight="bold" >100</text>
<text transform="translate(962.5,871) rotate(-90) scale(1,1.07)" font-size="37.6" fill="#000" text-anchor="middle" font-weight="bold" >Conversion &amp; Selectivity / %</text>
<text transform="translate(1361.7,1187.5) scale(1.07,1)" font-size="35.4" fill="#000" text-anchor="middle" font-weight="bold" >Temperature / <tspan dy="-20" font-size="22">o</tspan><tspan dy="20">C</tspan></text>
<rect x="1669.8" y="642.1" width="109.5" height="59.6" fill="#C0C0C0" stroke="none" stroke-width="0" />
<rect x="1665.8" y="638.1" width="110.1" height="59.9" fill="#8A8A8A" stroke="none" stroke-width="0" />
<rect x="1664.3" y="636.6" width="110" height="59.6" fill="#FFFFFF" stroke="#555555" stroke-width="1.8" />
<text transform="translate(1717.5,682.06)" font-size="39.6" fill="#000" text-anchor="middle" font-weight="bold" >18 h</text>
<text transform="translate(899.5,647)" font-size="42" fill="#000" text-anchor="start" font-weight="bold" >e</text>
<rect x="1042.5" y="1357.69" width="17.4" height="343.11" fill="#000000" stroke="none" stroke-width="0" />
<rect x="1060.72" y="1696.34" width="17.4" height="4.46" fill="#FF0000" stroke="none" stroke-width="0" />
<rect x="1078.94" y="1694.12" width="17.4" height="6.68" fill="#0000FF" stroke="none" stroke-width="0" />
<rect x="1115.38" y="1674.06" width="17.4" height="26.74" fill="#FF00FF" stroke="none" stroke-width="0" />
<rect x="1133.6" y="1281.94" width="17.4" height="418.86" fill="#FF8000" stroke="none" stroke-width="0" />
<rect x="1162.6" y="1295.3" width="17.4" height="405.5" fill="#000000" stroke="none" stroke-width="0" />
<rect x="1180.82" y="1682.98" width="17.4" height="17.82" fill="#FF0000" stroke="none" stroke-width="0" />
<rect x="1199.04" y="1687.43" width="17.4" height="13.37" fill="#0000FF" stroke="none" stroke-width="0" />
<rect x="1235.48" y="1658.47" width="17.4" height="42.33" fill="#FF00FF" stroke="none" stroke-width="0" />
<rect x="1253.7" y="1326.5" width="17.4" height="374.3" fill="#FF8000" stroke="none" stroke-width="0" />
<rect x="1283.3" y="1273.02" width="17.4" height="427.78" fill="#000000" stroke="none" stroke-width="0" />
<rect x="1301.52" y="1696.34" width="17.4" height="4.46" fill="#FF0000" stroke="none" stroke-width="0" />
<rect x="1319.74" y="1665.15" width="17.4" height="35.65" fill="#0000FF" stroke="none" stroke-width="0" />
<rect x="1356.18" y="1655.35" width="17.4" height="45.45" fill="#FF00FF" stroke="none" stroke-width="0" />
<rect x="1374.4" y="1339.86" width="17.4" height="360.94" fill="#FF8000" stroke="none" stroke-width="0" />
<rect x="1404" y="1273.02" width="17.4" height="427.78" fill="#000000" stroke="none" stroke-width="0" />
<rect x="1422.22" y="1665.15" width="17.4" height="35.65" fill="#FF0000" stroke="none" stroke-width="0" />
<rect x="1440.44" y="1651.78" width="17.4" height="49.02" fill="#0000FF" stroke="none" stroke-width="0" />
<rect x="1476.88" y="1659.36" width="17.4" height="41.44" fill="#FF00FF" stroke="none" stroke-width="0" />
<rect x="1495.1" y="1384.42" width="17.4" height="316.38" fill="#FF8000" stroke="none" stroke-width="0" />
<rect x="1524.2" y="1281.94" width="17.4" height="418.86" fill="#000000" stroke="none" stroke-width="0" />
<rect x="1542.42" y="1669.61" width="17.4" height="31.19" fill="#FF0000" stroke="none" stroke-width="0" />
<rect x="1560.64" y="1647.33" width="17.4" height="53.47" fill="#0000FF" stroke="none" stroke-width="0" />
<rect x="1597.08" y="1653.57" width="17.4" height="47.23" fill="#FF00FF" stroke="none" stroke-width="0" />
<rect x="1615.3" y="1388.88" width="17.4" height="311.92" fill="#FF8000" stroke="none" stroke-width="0" />
<line x1="1036.7" y1="1231.7" x2="1036.7" y2="1701.9" stroke="#000" stroke-width="2.2" stroke-linecap="butt" />
<line x1="1025.7" y1="1700.8" x2="1699.3" y2="1700.8" stroke="#000" stroke-width="2.2" stroke-linecap="butt" />
<text transform="translate(1019.7,1709.3) scale(1.07,1)" font-size="27.3" fill="#000" text-anchor="end" font-weight="bold" >0</text>
<line x1="1030.7" y1="1656.24" x2="1036.7" y2="1656.24" stroke="#000" stroke-width="2.2" stroke-linecap="butt" />
<line x1="1025.7" y1="1611.68" x2="1036.7" y2="1611.68" stroke="#000" stroke-width="2.2" stroke-linecap="butt" />
<text transform="translate(1019.7,1620.18) scale(1.07,1)" font-size="27.3" fill="#000" text-anchor="end" font-weight="bold" >20</text>
<line x1="1030.7" y1="1567.12" x2="1036.7" y2="1567.12" stroke="#000" stroke-width="2.2" stroke-linecap="butt" />
<line x1="1025.7" y1="1522.56" x2="1036.7" y2="1522.56" stroke="#000" stroke-width="2.2" stroke-linecap="butt" />
<text transform="translate(1019.7,1531.06) scale(1.07,1)" font-size="27.3" fill="#000" text-anchor="end" font-weight="bold" >40</text>
<line x1="1030.7" y1="1478" x2="1036.7" y2="1478" stroke="#000" stroke-width="2.2" stroke-linecap="butt" />
<line x1="1025.7" y1="1433.44" x2="1036.7" y2="1433.44" stroke="#000" stroke-width="2.2" stroke-linecap="butt" />
<text transform="translate(1019.7,1441.94) scale(1.07,1)" font-size="27.3" fill="#000" text-anchor="end" font-weight="bold" >60</text>
<line x1="1030.7" y1="1388.88" x2="1036.7" y2="1388.88" stroke="#000" stroke-width="2.2" stroke-linecap="butt" />
<line x1="1025.7" y1="1344.32" x2="1036.7" y2="1344.32" stroke="#000" stroke-width="2.2" stroke-linecap="butt" />
<text transform="translate(1019.7,1352.82) scale(1.07,1)" font-size="27.3" fill="#000" text-anchor="end" font-weight="bold" >80</text>
<line x1="1030.7" y1="1299.76" x2="1036.7" y2="1299.76" stroke="#000" stroke-width="2.2" stroke-linecap="butt" />
<line x1="1025.7" y1="1255.2" x2="1036.7" y2="1255.2" stroke="#000" stroke-width="2.2" stroke-linecap="butt" />
<text transform="translate(1019.7,1263.7) scale(1.07,1)" font-size="27.3" fill="#000" text-anchor="end" font-weight="bold" >100</text>
<text transform="translate(1092.5,1734.3) scale(1.07,1)" font-size="27.3" fill="#000" text-anchor="middle" font-weight="bold" >1</text>
<text transform="translate(1216,1734.3) scale(1.07,1)" font-size="27.3" fill="#000" text-anchor="middle" font-weight="bold" >2</text>
<text transform="translate(1336.5,1734.3) scale(1.07,1)" font-size="27.3" fill="#000" text-anchor="middle" font-weight="bold" >4</text>
<text transform="translate(1457,1734.3) scale(1.07,1)" font-size="27.3" fill="#000" text-anchor="middle" font-weight="bold" >7</text>
<text transform="translate(1578,1734.3) scale(1.07,1)" font-size="27.3" fill="#000" text-anchor="middle" font-weight="bold" >10</text>
<text transform="translate(966.3,1461.5) rotate(-90) scale(1,1.07)" font-size="37.6" fill="#000" text-anchor="middle" font-weight="bold" >Conversion &amp; Selectivity / %</text>
<text transform="translate(1331,1776) scale(1.07,1)" font-size="35.4" fill="#000" text-anchor="middle" font-weight="bold" >OA amount / %</text>
<rect x="1668.1" y="1221.6" width="127.9" height="56.4" fill="#C0C0C0" stroke="none" stroke-width="0" />
<rect x="1664.1" y="1217.6" width="128.5" height="56.7" fill="#8A8A8A" stroke="none" stroke-width="0" />
<rect x="1662.6" y="1216.1" width="128.4" height="56.4" fill="#FFFFFF" stroke="#555555" stroke-width="1.8" />
<text transform="translate(1726.8,1261.26)" font-size="39.6" fill="#000" text-anchor="middle" font-weight="bold" >80 <tspan dy="-15" font-size="29">o</tspan><tspan dy="15">C</tspan></text>
<rect x="1668.1" y="1292.4" width="127.9" height="55.9" fill="#C0C0C0" stroke="none" stroke-width="0" />
<rect x="1664.1" y="1288.4" width="128.5" height="56.2" fill="#8A8A8A" stroke="none" stroke-width="0" />
<rect x="1662.6" y="1286.9" width="128.4" height="55.9" fill="#FFFFFF" stroke="#555555" stroke-width="1.8" />
<text transform="translate(1724.3,1330.31)" font-size="39.6" fill="#000" text-anchor="middle" font-weight="bold" >6 h</text>
<text transform="translate(908.5,1236.5)" font-size="43" fill="#000" text-anchor="start" font-weight="bold" >f</text>
<line x1="153" y1="1802" x2="153" y2="2280.3" stroke="#868686" stroke-width="4.4" stroke-linecap="butt" />
<line x1="142.4" y1="2270.8" x2="767.5" y2="2270.8" stroke="#868686" stroke-width="4.4" stroke-linecap="butt" />
<line x1="142.4" y1="2177.6" x2="153" y2="2177.6" stroke="#868686" stroke-width="4" stroke-linecap="butt" />
<line x1="142.4" y1="2084.4" x2="153" y2="2084.4" stroke="#868686" stroke-width="4" stroke-linecap="butt" />
<line x1="142.4" y1="1991.2" x2="153" y2="1991.2" stroke="#868686" stroke-width="4" stroke-linecap="butt" />
<line x1="142.4" y1="1898" x2="153" y2="1898" stroke="#868686" stroke-width="4" stroke-linecap="butt" />
<line x1="142.4" y1="1804.8" x2="153" y2="1804.8" stroke="#868686" stroke-width="4" stroke-linecap="butt" />
<line x1="328.6" y1="2270.8" x2="328.6" y2="2280.3" stroke="#868686" stroke-width="4" stroke-linecap="butt" />
<line x1="504.2" y1="2270.8" x2="504.2" y2="2280.3" stroke="#868686" stroke-width="4" stroke-linecap="butt" />
<line x1="679.8" y1="2270.8" x2="679.8" y2="2280.3" stroke="#868686" stroke-width="4" stroke-linecap="butt" />
<text transform="translate(124.5,2279.5) scale(1.06,1)" font-size="28" fill="#111" text-anchor="end" font-weight="bold" >0</text>
<text transform="translate(124.5,2186.3) scale(1.06,1)" font-size="28" fill="#111" text-anchor="end" font-weight="bold" >20</text>
<text transform="translate(124.5,2093.1) scale(1.06,1)" font-size="28" fill="#111" text-anchor="end" font-weight="bold" >40</text>
<text transform="translate(124.5,1999.9) scale(1.06,1)" font-size="28" fill="#111" text-anchor="end" font-weight="bold" >60</text>
<text transform="translate(124.5,1906.7) scale(1.06,1)" font-size="28" fill="#111" text-anchor="end" font-weight="bold" >80</text>
<text transform="translate(124.5,1813.5) scale(1.06,1)" font-size="28" fill="#111" text-anchor="end" font-weight="bold" >100</text>
<text transform="translate(153,2320.6) scale(1.06,1)" font-size="28" fill="#111" text-anchor="middle" font-weight="bold" >0</text>
<text transform="translate(328.6,2320.6) scale(1.06,1)" font-size="28" fill="#111" text-anchor="middle" font-weight="bold" >10</text>
<text transform="translate(504.2,2320.6) scale(1.06,1)" font-size="28" fill="#111" text-anchor="middle" font-weight="bold" >20</text>
<text transform="translate(679.8,2320.6) scale(1.06,1)" font-size="28" fill="#111" text-anchor="middle" font-weight="bold" >30</text>
<polyline points="240.8,1870.09 246.29,1881.2 251.77,1892.16 257.26,1902.96 262.75,1913.62 268.24,1924.12 273.73,1934.47 279.21,1944.66 284.7,1954.71 290.19,1964.6 295.67,1974.34 301.16,1983.92 306.65,1993.35 312.14,2002.63 317.62,2011.76 323.11,2020.74 328.6,2029.56 334.09,2038.23 339.57,2046.74 345.06,2055.11 350.55,2063.32 356.04,2071.38 361.52,2079.28 367.01,2087.04 372.5,2094.64 377.99,2102.08 383.48,2109.38 388.96,2116.52 394.45,2123.51 399.94,2130.35 405.42,2137.03 410.91,2143.57 416.4,2149.94 421.89,2156.17 427.38,2162.24 432.86,2168.17 438.35,2173.93 443.84,2179.55 449.32,2185.01 454.81,2190.32 460.3,2195.48 465.79,2200.49 471.27,2205.34 476.76,2210.04 482.25,2214.59 487.74,2218.98 493.22,2223.22 498.71,2227.31 504.2,2231.25 509.69,2235.03 515.17,2238.66 520.66,2242.14 526.15,2245.47 531.64,2248.64 537.12,2251.66 542.61,2254.53 548.1,2257.24 553.59,2259.81 559.08,2262.22 564.56,2264.47 570.05,2266.58 575.54,2268.53 581.02,2270.33" fill="none" stroke="#E36C0A" stroke-width="1.9" stroke-dasharray="11,6.5,3,6.5"/>
<polyline points="240.8,2266.14 246.29,2266.14 251.77,2266.14 257.26,2266.14 262.75,2266.14 268.24,2266.14 273.73,2266.14 279.21,2266.14 284.7,2266.14 290.19,2266.14 295.67,2266.14 301.16,2266.14 306.65,2266.14 312.14,2266.14 317.62,2266.14 323.11,2266.14 328.6,2266.14 334.09,2266.14 339.57,2266.14 345.06,2266.14 350.55,2266.14 356.04,2266.14 361.52,2266.14 367.01,2266.14 372.5,2266.14 377.99,2266.14 383.48,2266.14 388.96,2266.14 394.45,2266.14 399.94,2266.14 405.42,2266.14 410.91,2266.14 416.4,2266.14 421.89,2266.14 427.38,2266.14 432.86,2266.14 438.35,2266.14 443.84,2266.14 449.32,2266.14 454.81,2266.14 460.3,2266.14 465.79,2266.14 471.27,2266.14 476.76,2266.14 482.25,2266.14 487.74,2266.14 493.22,2266.14 498.71,2266.14 504.2,2266.14 509.69,2266.14 515.17,2266.14 520.66,2266.14 526.15,2266.14 531.64,2266.14 537.12,2266.14 542.61,2266.14 548.1,2266.14 553.59,2266.14 559.08,2266.14 564.56,2266.14 570.05,2266.14 575.54,2266.14 581.02,2266.14 586.51,2266.14 592,2266.14 597.49,2266.14 602.97,2266.14 608.46,2266.14 613.95,2266.14 619.44,2266.14 624.92,2266.14 630.41,2266.14 635.9,2266.14 641.39,2266.14 646.88,2266.14 652.36,2266.14 657.85,2266.14 663.34,2266.14 668.82,2266.14 674.31,2266.14 679.8,2266.14" fill="none" stroke="#3B8686" stroke-width="1.9" stroke-dasharray="11,6.5,3,6.5"/>
<polyline points="240.8,2213.92 246.29,2215.01 251.77,2216.08 257.26,2217.15 262.75,2218.21 268.24,2219.25 273.73,2220.29 279.21,2221.31 284.7,2222.33 290.19,2223.33 295.67,2224.33 301.16,2225.31 306.65,2226.29 312.14,2227.25 317.62,2228.2 323.11,2229.15 328.6,2230.08 334.09,2231 339.57,2231.91 345.06,2232.81 350.55,2233.7 356.04,2234.58 361.52,2235.45 367.01,2236.31 372.5,2237.16 377.99,2238 383.48,2238.83 388.96,2239.65 394.45,2240.46 399.94,2241.26 405.42,2242.05 410.91,2242.82 416.4,2243.59 421.89,2244.35 427.38,2245.09 432.86,2245.83 438.35,2246.55 443.84,2247.27 449.32,2247.97 454.81,2248.67 460.3,2249.35 465.79,2250.03 471.27,2250.69 476.76,2251.34 482.25,2251.99 487.74,2252.62 493.22,2253.24 498.71,2253.85 504.2,2254.45 509.69,2255.05 515.17,2255.63 520.66,2256.2 526.15,2256.76 531.64,2257.31 537.12,2257.85 542.61,2258.38 548.1,2258.9 553.59,2259.4 559.08,2259.9 564.56,2260.39 570.05,2260.87 575.54,2261.33 581.02,2261.79 586.51,2262.24 592,2262.67 597.49,2263.1 602.97,2263.52 608.46,2263.92 613.95,2264.32 619.44,2264.7 624.92,2265.07 630.41,2265.44 635.9,2265.79 641.39,2266.13 646.88,2266.47 652.36,2266.79 657.85,2267.1 663.34,2267.4 668.82,2267.7 674.31,2267.98 679.8,2268.25" fill="none" stroke="#7030A0" stroke-width="1.9" stroke-dasharray="11,6.5,3,6.5"/>
<polyline points="240.8,2247.31 246.29,2237.95 251.77,2228.73 257.26,2219.66 262.75,2210.73 268.24,2201.95 273.73,2193.32 279.21,2184.83 284.7,2176.49 290.19,2168.3 295.67,2160.25 301.16,2152.35 306.65,2144.59 312.14,2136.99 317.62,2129.52 323.11,2122.21 328.6,2115.04 334.09,2108.02 339.57,2101.14 345.06,2094.42 350.55,2087.83 356.04,2081.4 361.52,2075.11 367.01,2068.97 372.5,2062.97 377.99,2057.12 383.48,2051.42 388.96,2045.86 394.45,2040.45 399.94,2035.18 405.42,2030.07 410.91,2025.1 416.4,2020.27 421.89,2015.59 427.38,2011.06 432.86,2006.68 438.35,2002.44 443.84,1998.35 449.32,1994.4 454.81,1990.6 460.3,1986.95 465.79,1983.45 471.27,1980.09 476.76,1976.87 482.25,1973.81 487.74,1970.89 493.22,1968.11 498.71,1965.49 504.2,1963.01 509.69,1960.67 515.17,1958.48 520.66,1956.44 526.15,1954.55 531.64,1952.8 537.12,1951.2 542.61,1949.74 548.1,1948.44 553.59,1947.27 559.08,1946.26 564.56,1945.39 570.05,1944.67 575.54,1944.09 581.02,1943.66 586.51,1943.38 592,1943.24 597.49,1943.25 602.97,1943.41 608.46,1943.71 613.95,1944.16 619.44,1944.76 624.92,1945.5 630.41,1946.39 635.9,1947.42 641.39,1948.61 646.88,1949.93 652.36,1951.41 657.85,1953.03 663.34,1954.8 668.82,1956.71 674.31,1958.77 679.8,1960.98" fill="none" stroke="#FF0000" stroke-width="1.9" stroke-dasharray="11,6.5,3,6.5"/>
<polyline points="240.8,2262.18 246.29,2252.75 251.77,2243.47 257.26,2234.34 262.75,2225.37 268.24,2216.55 273.73,2207.88 279.21,2199.37 284.7,2191.01 290.19,2182.81 295.67,2174.76 301.16,2166.86 306.65,2159.12 312.14,2151.53 317.62,2144.09 323.11,2136.81 328.6,2129.68 334.09,2122.71 339.57,2115.89 345.06,2109.22 350.55,2102.71 356.04,2096.35 361.52,2090.14 367.01,2084.09 372.5,2078.19 377.99,2072.45 383.48,2066.86 388.96,2061.42 394.45,2056.14 399.94,2051.01 405.42,2046.03 410.91,2041.21 416.4,2036.54 421.89,2032.03 427.38,2027.67 432.86,2023.46 438.35,2019.41 443.84,2015.51 449.32,2011.76 454.81,2008.17 460.3,2004.73 465.79,2001.45 471.27,1998.31 476.76,1995.34 482.25,1992.51 487.74,1989.84 493.22,1987.33 498.71,1984.97 504.2,1982.76 509.69,1980.7 515.17,1978.8 520.66,1977.06 526.15,1975.46 531.64,1974.02 537.12,1972.74 542.61,1971.6 548.1,1970.63 553.59,1969.8 559.08,1969.13 564.56,1968.61 570.05,1968.25 575.54,1968.04 581.02,1967.98 586.51,1968.08 592,1968.33 597.49,1968.74 602.97,1969.3 608.46,1970.01 613.95,1970.88 619.44,1971.9 624.92,1973.07 630.41,1974.4 635.9,1975.88 641.39,1977.52 646.88,1979.3 652.36,1981.25 657.85,1983.34 663.34,1985.59 668.82,1988 674.31,1990.56 679.8,1993.27" fill="none" stroke="#0033CC" stroke-width="1.9" stroke-dasharray="11,6.5,3,6.5"/>
<polyline points="240.8,1879.66 246.29,1877.7 251.77,1875.75 257.26,1873.84 262.75,1871.95 268.24,1870.09 273.73,1868.26 279.21,1866.45 284.7,1864.67 290.19,1862.92 295.67,1861.2 301.16,1859.5 306.65,1857.83 312.14,1856.18 317.62,1854.56 323.11,1852.97 328.6,1851.41 334.09,1849.88 339.57,1848.37 345.06,1846.88 350.55,1845.43 356.04,1844 361.52,1842.6 367.01,1841.23 372.5,1839.88 377.99,1838.56 383.48,1837.27 388.96,1836 394.45,1834.76 399.94,1833.55 405.42,1832.37 410.91,1831.21 416.4,1830.08 421.89,1828.98 427.38,1827.9 432.86,1826.85 438.35,1825.83 443.84,1824.83 449.32,1823.86 454.81,1822.92 460.3,1822.01 465.79,1821.12 471.27,1820.26 476.76,1819.43 482.25,1818.62 487.74,1817.84 493.22,1817.09 498.71,1816.36 504.2,1815.67 509.69,1814.99 515.17,1814.35 520.66,1813.73 526.15,1813.14 531.64,1812.58 537.12,1812.04 542.61,1811.54 548.1,1811.05 553.59,1810.6 559.08,1810.17 564.56,1809.77 570.05,1809.4 575.54,1809.05 581.02,1808.73 586.51,1808.44 592,1808.17 597.49,1807.93 602.97,1807.72 608.46,1807.54 613.95,1807.38 619.44,1807.25 624.92,1807.15 630.41,1807.07 635.9,1807.02 641.39,1807 646.88,1807 652.36,1807.03 657.85,1807.09 663.34,1807.18 668.82,1807.29 674.31,1807.43 679.8,1807.6" fill="none" stroke="#000000" stroke-width="1.9" stroke-dasharray="11,6.5,3,6.5"/>
<polygon points="240.8,1859.8 256,1874.7 240.8,1889.6 225.6,1874.7" fill="#000000"/>
<polygon points="328.6,1845.82 343.8,1860.72 328.6,1875.62 313.4,1860.72" fill="#000000"/>
<polygon points="504.2,1794.56 519.4,1809.46 504.2,1824.36 489,1809.46" fill="#000000"/>
<polygon points="679.8,1794.56 695,1809.46 679.8,1824.36 664.6,1809.46" fill="#000000"/>
<rect x="226.3" y="2214.36" width="29" height="29" fill="#FF0000" stroke="none" stroke-width="0" />
<rect x="314.1" y="2135.14" width="29" height="29" fill="#FF0000" stroke="none" stroke-width="0" />
<rect x="489.7" y="1925.44" width="29" height="29" fill="#FF0000" stroke="none" stroke-width="0" />
<rect x="665.3" y="1953.4" width="29" height="29" fill="#FF0000" stroke="none" stroke-width="0" />
<polygon points="240.8,2227.84 255.8,2256.34 225.8,2256.34" fill="#0033CC"/>
<polygon points="328.6,2150.95 343.6,2179.45 313.6,2179.45" fill="#0033CC"/>
<polygon points="504.2,1943.58 519.2,1972.08 489.2,1972.08" fill="#0033CC"/>
<polygon points="679.8,1985.52 694.8,2014.02 664.8,2014.02" fill="#0033CC"/>
<line x1="226.8" y1="2252.14" x2="254.8" y2="2280.14" stroke="#3B8686" stroke-width="1.6" stroke-linecap="butt" />
<line x1="226.8" y1="2280.14" x2="254.8" y2="2252.14" stroke="#3B8686" stroke-width="1.6" stroke-linecap="butt" />
<line x1="314.6" y1="2252.14" x2="342.6" y2="2280.14" stroke="#3B8686" stroke-width="1.6" stroke-linecap="butt" />
<line x1="314.6" y1="2280.14" x2="342.6" y2="2252.14" stroke="#3B8686" stroke-width="1.6" stroke-linecap="butt" />
<line x1="490.2" y1="2252.14" x2="518.2" y2="2280.14" stroke="#3B8686" stroke-width="1.6" stroke-linecap="butt" />
<line x1="490.2" y1="2280.14" x2="518.2" y2="2252.14" stroke="#3B8686" stroke-width="1.6" stroke-linecap="butt" />
<line x1="665.8" y1="2252.14" x2="693.8" y2="2280.14" stroke="#3B8686" stroke-width="1.6" stroke-linecap="butt" />
<line x1="665.8" y1="2280.14" x2="693.8" y2="2252.14" stroke="#3B8686" stroke-width="1.6" stroke-linecap="butt" />
<line x1="226.8" y1="2205.54" x2="254.8" y2="2233.54" stroke="#7030A0" stroke-width="1.6" stroke-linecap="butt" />
<line x1="226.8" y1="2233.54" x2="254.8" y2="2205.54" stroke="#7030A0" stroke-width="1.6" stroke-linecap="butt" />
<line x1="240.8" y1="2205.54" x2="240.8" y2="2233.54" stroke="#7030A0" stroke-width="1.6" stroke-linecap="butt" />
<line x1="314.6" y1="2205.54" x2="342.6" y2="2233.54" stroke="#7030A0" stroke-width="1.6" stroke-linecap="butt" />
<line x1="314.6" y1="2233.54" x2="342.6" y2="2205.54" stroke="#7030A0" stroke-width="1.6" stroke-linecap="butt" />
<line x1="328.6" y1="2205.54" x2="328.6" y2="2233.54" stroke="#7030A0" stroke-width="1.6" stroke-linecap="butt" />
<line x1="490.2" y1="2247.48" x2="518.2" y2="2275.48" stroke="#7030A0" stroke-width="1.6" stroke-linecap="butt" />
<line x1="490.2" y1="2275.48" x2="518.2" y2="2247.48" stroke="#7030A0" stroke-width="1.6" stroke-linecap="butt" />
<line x1="504.2" y1="2247.48" x2="504.2" y2="2275.48" stroke="#7030A0" stroke-width="1.6" stroke-linecap="butt" />
<line x1="665.8" y1="2252.14" x2="693.8" y2="2280.14" stroke="#7030A0" stroke-width="1.6" stroke-linecap="butt" />
<line x1="665.8" y1="2280.14" x2="693.8" y2="2252.14" stroke="#7030A0" stroke-width="1.6" stroke-linecap="butt" />
<line x1="679.8" y1="2252.14" x2="679.8" y2="2280.14" stroke="#7030A0" stroke-width="1.6" stroke-linecap="butt" />
<ellipse cx="240.8" cy="1898" rx="14.5" ry="14.5" fill="#E36C0A"/>
<ellipse cx="328.6" cy="1977.22" rx="14.5" ry="14.5" fill="#E36C0A"/>
<ellipse cx="504.2" cy="2266.14" rx="14.5" ry="14.5" fill="#E36C0A"/>
<ellipse cx="679.8" cy="2266.14" rx="14.5" ry="14.5" fill="#E36C0A"/>
<polygon points="538,2025.88 546.8,2034.5 538,2043.12 529.2,2034.5" fill="#000000"/>
<text transform="translate(552.3,2042.9) scale(1.12,1)" font-size="25" fill="#000" text-anchor="start" font-weight="bold" >Con. 1a</text>
<rect x="530" y="2064.8" width="16" height="16" fill="#FF0000" stroke="none" stroke-width="0" />
<text transform="translate(552.3,2081.2) scale(1.12,1)" font-size="25" fill="#000" text-anchor="start" font-weight="bold" >Sel. Guaiacol</text>
<polygon points="538,2102 546.3,2117.77 529.7,2117.77" fill="#0033CC"/>
<text transform="translate(552.3,2118.7) scale(1.12,1)" font-size="25" fill="#000" text-anchor="start" font-weight="bold" >Sel. 6aa</text>
<line x1="530.5" y1="2140.5" x2="545.5" y2="2155.5" stroke="#3B8686" stroke-width="1.2" stroke-linecap="butt" />
<line x1="530.5" y1="2155.5" x2="545.5" y2="2140.5" stroke="#3B8686" stroke-width="1.2" stroke-linecap="butt" />
<text transform="translate(552.3,2156.4) scale(1.12,1)" font-size="25" fill="#000" text-anchor="start" font-weight="bold" >Sel. 5a</text>
<line x1="530.5" y1="2178.3" x2="545.5" y2="2193.3" stroke="#7030A0" stroke-width="1.2" stroke-linecap="butt" />
<line x1="530.5" y1="2193.3" x2="545.5" y2="2178.3" stroke="#7030A0" stroke-width="1.2" stroke-linecap="butt" />
<line x1="538" y1="2177.8" x2="538" y2="2193.8" stroke="#7030A0" stroke-width="1.2" stroke-linecap="butt" />
<text transform="translate(552.3,2194.2) scale(1.12,1)" font-size="25" fill="#000" text-anchor="start" font-weight="bold" >Sel. 3a</text>
<ellipse cx="538" cy="2224" rx="8.3" ry="8.3" fill="#E36C0A"/>
<text transform="translate(552.3,2232.4) scale(1.12,1)" font-size="25" fill="#000" text-anchor="start" font-weight="bold" >Sel. 4aa</text>
<rect x="712.2" y="1802" width="149.5" height="59.8" fill="#C0C0C0" stroke="none" stroke-width="0" />
<rect x="708.2" y="1798" width="150.1" height="60.1" fill="#8A8A8A" stroke="none" stroke-width="0" />
<rect x="706.7" y="1796.5" width="150" height="59.8" fill="#FFFFFF" stroke="#555555" stroke-width="1.8" />
<text transform="translate(785.1,1843.36)" font-size="39.6" fill="#000" text-anchor="middle" font-weight="bold" >120 <tspan dy="-15" font-size="29">o</tspan><tspan dy="15">C</tspan></text>
<text transform="translate(66.5,2038) rotate(-90) scale(1,1.07)" font-size="38" fill="#000" text-anchor="middle" font-weight="bold" >Conversion &amp; Selectivity / %</text>
<text transform="translate(450.3,2362)" font-size="39.1" fill="#000" text-anchor="middle" font-weight="bold" >Time / min</text>
<text transform="translate(7,1816)" font-size="42" fill="#000" text-anchor="start" font-weight="bold" >d</text>
<line x1="1040.2" y1="1800" x2="1040.2" y2="2284" stroke="#868686" stroke-width="4.4" stroke-linecap="butt" />
<line x1="1029.5" y1="2274.5" x2="1668.5" y2="2274.5" stroke="#868686" stroke-width="4.4" stroke-linecap="butt" />
<line x1="1029.5" y1="2180.3" x2="1040.2" y2="2180.3" stroke="#868686" stroke-width="4" stroke-linecap="butt" />
<line x1="1029.5" y1="2086.1" x2="1040.2" y2="2086.1" stroke="#868686" stroke-width="4" stroke-linecap="butt" />
<line x1="1029.5" y1="1991.9" x2="1040.2" y2="1991.9" stroke="#868686" stroke-width="4" stroke-linecap="butt" />
<line x1="1029.5" y1="1897.7" x2="1040.2" y2="1897.7" stroke="#868686" stroke-width="4" stroke-linecap="butt" />
<line x1="1029.5" y1="1803.5" x2="1040.2" y2="1803.5" stroke="#868686" stroke-width="4" stroke-linecap="butt" />
<line x1="1165.45" y1="2274.5" x2="1165.45" y2="2284" stroke="#868686" stroke-width="4" stroke-linecap="butt" />
<line x1="1290.7" y1="2274.5" x2="1290.7" y2="2284" stroke="#868686" stroke-width="4" stroke-linecap="butt" />
<line x1="1415.95" y1="2274.5" x2="1415.95" y2="2284" stroke="#868686" stroke-width="4" stroke-linecap="butt" />
<line x1="1541.2" y1="2274.5" x2="1541.2" y2="2284" stroke="#868686" stroke-width="4" stroke-linecap="butt" />
<line x1="1666.45" y1="2274.5" x2="1666.45" y2="2284" stroke="#868686" stroke-width="4" stroke-linecap="butt" />
<text transform="translate(1009,2283.2) scale(1.05,1)" font-size="28.5" fill="#111" text-anchor="end" font-weight="bold" >0</text>
<text transform="translate(1009,2189) scale(1.05,1)" font-size="28.5" fill="#111" text-anchor="end" font-weight="bold" >20</text>
<text transform="translate(1009,2094.8) scale(1.05,1)" font-size="28.5" fill="#111" text-anchor="end" font-weight="bold" >40</text>
<text transform="translate(1009,2000.6) scale(1.05,1)" font-size="28.5" fill="#111" text-anchor="end" font-weight="bold" >60</text>
<text transform="translate(1009,1906.4) scale(1.05,1)" font-size="28.5" fill="#111" text-anchor="end" font-weight="bold" >80</text>
<text transform="translate(1009,1812.2) scale(1.05,1)" font-size="28.5" fill="#111" text-anchor="end" font-weight="bold" >100</text>
<text transform="translate(1040.2,2325) scale(1.05,1)" font-size="28.5" fill="#111" text-anchor="middle" font-weight="bold" >0</text>
<text transform="translate(1165.45,2325) scale(1.05,1)" font-size="28.5" fill="#111" text-anchor="middle" font-weight="bold" >5</text>
<text transform="translate(1290.7,2325) scale(1.05,1)" font-size="28.5" fill="#111" text-anchor="middle" font-weight="bold" >10</text>
<text transform="translate(1415.95,2325) scale(1.05,1)" font-size="28.5" fill="#111" text-anchor="middle" font-weight="bold" >15</text>
<text transform="translate(1541.2,2325) scale(1.05,1)" font-size="28.5" fill="#111" text-anchor="middle" font-weight="bold" >20</text>
<text transform="translate(1666.45,2325) scale(1.05,1)" font-size="28.5" fill="#111" text-anchor="middle" font-weight="bold" >25</text>
<polyline points="1065.25,1824.91 1072.45,1824.98 1079.65,1825.06 1086.86,1825.13 1094.06,1825.21 1101.26,1825.28 1108.46,1825.36 1115.66,1825.43 1122.87,1825.51 1130.07,1825.58 1137.27,1825.66 1144.47,1825.73 1151.67,1825.81 1158.87,1825.89 1166.08,1825.96 1173.28,1826.04 1180.48,1826.11 1187.68,1826.19 1194.88,1826.26 1202.09,1826.34 1209.29,1826.41 1216.49,1826.49 1223.69,1826.56 1230.89,1826.64 1238.1,1826.71 1245.3,1826.79 1252.5,1826.86 1259.7,1826.94 1266.9,1827.01 1274.1,1827.09 1281.31,1827.16 1288.51,1827.24 1295.71,1827.31 1302.91,1827.39 1310.11,1827.46 1317.32,1827.54 1324.52,1827.61 1331.72,1827.69 1338.92,1827.76 1346.12,1827.84 1353.33,1827.91 1360.53,1827.99 1367.73,1828.06 1374.93,1828.14 1382.13,1828.21 1389.33,1828.29 1396.54,1828.36 1403.74,1828.44 1410.94,1828.51 1418.14,1828.59 1425.34,1828.66 1432.55,1828.74 1439.75,1828.81 1446.95,1828.89 1454.15,1828.96 1461.35,1829.04 1468.56,1829.11 1475.76,1829.19 1482.96,1829.26 1490.16,1829.34 1497.36,1829.41 1504.56,1829.49 1511.77,1829.56 1518.97,1829.64 1526.17,1829.71 1533.37,1829.79 1540.57,1829.86 1547.78,1829.94 1554.98,1830.01 1562.18,1830.09 1569.38,1830.16 1576.58,1830.24 1583.79,1830.31 1590.99,1830.39 1598.19,1830.46 1605.39,1830.54 1612.59,1830.61 1619.79,1830.69 1627,1830.76 1634.2,1830.84 1641.4,1830.91" fill="none" stroke="#E36C0A" stroke-width="1.9" stroke-dasharray="11,6.5,3,6.5"/>
<polyline points="1065.25,2242.47 1072.45,2244.02 1079.65,2245.43 1086.86,2246.71 1094.06,2247.87 1101.26,2248.93 1108.46,2249.89 1115.66,2250.76 1122.87,2251.55 1130.07,2252.27 1137.27,2252.92 1144.47,2253.52 1151.67,2254.06 1158.87,2254.55 1166.08,2255 1173.28,2255.4 1180.48,2255.77 1187.68,2256.1 1194.88,2256.41 1202.09,2256.68 1209.29,2256.93 1216.49,2257.16 1223.69,2257.37 1230.89,2257.56 1238.1,2257.73 1245.3,2257.88 1252.5,2258.02 1259.7,2258.15 1266.9,2258.27 1274.1,2258.38 1281.31,2258.47 1288.51,2258.56 1295.71,2258.64 1302.91,2258.71 1310.11,2258.78 1317.32,2258.84 1324.52,2258.89 1331.72,2258.94 1338.92,2258.98 1346.12,2259.02 1353.33,2259.06 1360.53,2259.09 1367.73,2259.13 1374.93,2259.15 1382.13,2259.18 1389.33,2259.2 1396.54,2259.22 1403.74,2259.24 1410.94,2259.26 1418.14,2259.27 1425.34,2259.29 1432.55,2259.3 1439.75,2259.31 1446.95,2259.32 1454.15,2259.33 1461.35,2259.34 1468.56,2259.35 1475.76,2259.36 1482.96,2259.36 1490.16,2259.37 1497.36,2259.37 1504.56,2259.38 1511.77,2259.38 1518.97,2259.39 1526.17,2259.39 1533.37,2259.39 1540.57,2259.4 1547.78,2259.4 1554.98,2259.4 1562.18,2259.41 1569.38,2259.41 1576.58,2259.41 1583.79,2259.41 1590.99,2259.41 1598.19,2259.41 1605.39,2259.42 1612.59,2259.42 1619.79,2259.42 1627,2259.42 1634.2,2259.42 1641.4,2259.42" fill="none" stroke="#7030A0" stroke-width="1.9" stroke-dasharray="11,6.5,3,6.5"/>
<polyline points="1135.39,2271.99 1141.72,2270.06 1148.04,2268.29 1154.37,2266.66 1160.69,2265.17 1167.02,2263.79 1173.34,2262.53 1179.67,2261.36 1185.99,2260.3 1192.32,2259.31 1198.64,2258.41 1204.97,2257.58 1211.29,2256.82 1217.62,2256.11 1223.94,2255.47 1230.27,2254.88 1236.59,2254.33 1242.92,2253.83 1249.24,2253.37 1255.57,2252.95 1261.89,2252.56 1268.22,2252.2 1274.54,2251.87 1280.87,2251.57 1287.19,2251.29 1293.52,2251.03 1299.84,2250.8 1306.17,2250.58 1312.49,2250.38 1318.82,2250.2 1325.14,2250.03 1331.47,2249.88 1337.79,2249.74 1344.12,2249.61 1350.44,2249.49 1356.77,2249.38 1363.09,2249.28 1369.42,2249.18 1375.74,2249.1 1382.07,2249.02 1388.39,2248.95 1394.72,2248.88 1401.05,2248.82 1407.37,2248.76 1413.7,2248.71 1420.02,2248.66 1426.35,2248.62 1432.67,2248.58 1439,2248.54 1445.32,2248.51 1451.65,2248.48 1457.97,2248.45 1464.3,2248.42 1470.62,2248.4 1476.95,2248.38 1483.27,2248.36 1489.6,2248.34 1495.92,2248.32 1502.25,2248.31 1508.57,2248.29 1514.9,2248.28 1521.22,2248.26 1527.55,2248.25 1533.87,2248.24 1540.2,2248.23 1546.52,2248.22 1552.85,2248.22 1559.17,2248.21 1565.5,2248.2 1571.82,2248.2 1578.15,2248.19 1584.47,2248.18 1590.8,2248.18 1597.12,2248.18 1603.45,2248.17 1609.77,2248.17 1616.1,2248.16 1622.42,2248.16 1628.75,2248.16 1635.07,2248.15 1641.4,2248.15" fill="none" stroke="#FF0000" stroke-width="1.9" stroke-dasharray="11,6.5,3,6.5"/>
<polyline points="1110.34,2273.11 1116.98,2271.99 1123.62,2270.97 1130.25,2270.03 1136.89,2269.18 1143.53,2268.39 1150.17,2267.68 1156.81,2267.02 1163.45,2266.42 1170.08,2265.87 1176.72,2265.36 1183.36,2264.9 1190,2264.48 1196.64,2264.09 1203.28,2263.73 1209.91,2263.41 1216.55,2263.11 1223.19,2262.84 1229.83,2262.59 1236.47,2262.37 1243.11,2262.16 1249.74,2261.97 1256.38,2261.79 1263.02,2261.63 1269.66,2261.48 1276.3,2261.35 1282.93,2261.23 1289.57,2261.12 1296.21,2261.01 1302.85,2260.92 1309.49,2260.83 1316.13,2260.75 1322.76,2260.68 1329.4,2260.62 1336.04,2260.55 1342.68,2260.5 1349.32,2260.45 1355.96,2260.4 1362.59,2260.36 1369.23,2260.32 1375.87,2260.28 1382.51,2260.25 1389.15,2260.22 1395.78,2260.2 1402.42,2260.17 1409.06,2260.15 1415.7,2260.13 1422.34,2260.11 1428.98,2260.09 1435.61,2260.07 1442.25,2260.06 1448.89,2260.05 1455.53,2260.03 1462.17,2260.02 1468.81,2260.01 1475.44,2260 1482.08,2259.99 1488.72,2259.98 1495.36,2259.98 1502,2259.97 1508.63,2259.96 1515.27,2259.96 1521.91,2259.95 1528.55,2259.95 1535.19,2259.95 1541.83,2259.94 1548.46,2259.94 1555.1,2259.93 1561.74,2259.93 1568.38,2259.93 1575.02,2259.93 1581.66,2259.92 1588.29,2259.92 1594.93,2259.92 1601.57,2259.92 1608.21,2259.92 1614.85,2259.92 1621.49,2259.91 1628.12,2259.91 1634.76,2259.91 1641.4,2259.91" fill="none" stroke="#0033CC" stroke-width="1.9" stroke-dasharray="11,6.5,3,6.5"/>
<polyline points="1065.25,2135.56 1072.45,2109.33 1079.65,2088.41 1086.86,2071 1094.06,2056.1 1101.26,2043.07 1108.46,2031.5 1115.66,2021.09 1122.87,2011.63 1130.07,2002.96 1137.27,1994.95 1144.47,1987.52 1151.67,1980.59 1158.87,1974.09 1166.08,1967.98 1173.28,1962.2 1180.48,1956.73 1187.68,1951.54 1194.88,1946.59 1202.09,1941.86 1209.29,1937.34 1216.49,1933.01 1223.69,1928.86 1230.89,1924.86 1238.1,1921.01 1245.3,1917.3 1252.5,1913.72 1259.7,1910.26 1266.9,1906.91 1274.1,1903.66 1281.31,1900.51 1288.51,1897.46 1295.71,1894.49 1302.91,1891.6 1310.11,1888.8 1317.32,1886.06 1324.52,1883.4 1331.72,1880.8 1338.92,1878.27 1346.12,1875.8 1353.33,1873.38 1360.53,1871.02 1367.73,1868.71 1374.93,1866.46 1382.13,1864.25 1389.33,1862.08 1396.54,1859.96 1403.74,1857.89 1410.94,1855.85 1418.14,1853.85 1425.34,1851.89 1432.55,1849.97 1439.75,1848.08 1446.95,1846.23 1454.15,1844.41 1461.35,1842.62 1468.56,1840.86 1475.76,1839.13 1482.96,1837.42 1490.16,1835.75 1497.36,1834.1 1504.56,1832.48 1511.77,1830.88 1518.97,1829.31 1526.17,1827.76 1533.37,1826.23 1540.57,1824.73 1547.78,1823.24 1554.98,1821.78 1562.18,1820.34 1569.38,1818.92 1576.58,1817.51 1583.79,1816.13 1590.99,1814.76 1598.19,1813.41 1605.39,1812.08 1612.59,1810.77 1619.79,1809.47 1627,1808.19 1634.2,1806.92 1641.4,1805.67" fill="none" stroke="#000000" stroke-width="1.9" stroke-dasharray="11,6.5,3,6.5"/>
<polygon points="1065.25,2141.85 1081.36,2156.75 1065.25,2171.65 1049.14,2156.75" fill="#000000"/>
<polygon points="1115.35,2000.55 1131.46,2015.45 1115.35,2030.35 1099.24,2015.45" fill="#000000"/>
<polygon points="1190.5,1896.93 1206.61,1911.83 1190.5,1926.73 1174.39,1911.83" fill="#000000"/>
<polygon points="1340.8,1859.25 1356.91,1874.15 1340.8,1889.05 1324.69,1874.15" fill="#000000"/>
<polygon points="1641.4,1816.86 1657.51,1831.76 1641.4,1846.66 1625.29,1831.76" fill="#000000"/>
<rect x="1049.88" y="2260" width="30.74" height="29" fill="#FF0000" stroke="none" stroke-width="0" />
<rect x="1099.98" y="2260" width="30.74" height="29" fill="#FF0000" stroke="none" stroke-width="0" />
<rect x="1175.13" y="2255.29" width="30.74" height="29" fill="#FF0000" stroke="none" stroke-width="0" />
<rect x="1325.43" y="2235.04" width="30.74" height="29" fill="#FF0000" stroke="none" stroke-width="0" />
<rect x="1626.03" y="2232.21" width="30.74" height="29" fill="#FF0000" stroke="none" stroke-width="0" />
<polygon points="1065.25,2258.56 1081.15,2287.06 1049.35,2287.06" fill="#0033CC"/>
<polygon points="1115.35,2258.56 1131.25,2287.06 1099.45,2287.06" fill="#0033CC"/>
<polygon points="1190.5,2254.79 1206.4,2283.29 1174.6,2283.29" fill="#0033CC"/>
<polygon points="1340.8,2248.67 1356.7,2277.17 1324.9,2277.17" fill="#0033CC"/>
<polygon points="1641.4,2241.6 1657.3,2270.1 1625.5,2270.1" fill="#0033CC"/>
<line x1="1050.41" y1="2265.21" x2="1080.09" y2="2293.21" stroke="#3B8686" stroke-width="1.6" stroke-linecap="butt" />
<line x1="1050.41" y1="2293.21" x2="1080.09" y2="2265.21" stroke="#3B8686" stroke-width="1.6" stroke-linecap="butt" />
<line x1="1100.51" y1="2265.21" x2="1130.19" y2="2293.21" stroke="#3B8686" stroke-width="1.6" stroke-linecap="butt" />
<line x1="1100.51" y1="2293.21" x2="1130.19" y2="2265.21" stroke="#3B8686" stroke-width="1.6" stroke-linecap="butt" />
<line x1="1175.66" y1="2265.21" x2="1205.34" y2="2293.21" stroke="#3B8686" stroke-width="1.6" stroke-linecap="butt" />
<line x1="1175.66" y1="2293.21" x2="1205.34" y2="2265.21" stroke="#3B8686" stroke-width="1.6" stroke-linecap="butt" />
<line x1="1325.96" y1="2265.21" x2="1355.64" y2="2293.21" stroke="#3B8686" stroke-width="1.6" stroke-linecap="butt" />
<line x1="1325.96" y1="2293.21" x2="1355.64" y2="2265.21" stroke="#3B8686" stroke-width="1.6" stroke-linecap="butt" />
<line x1="1626.56" y1="2265.21" x2="1656.24" y2="2293.21" stroke="#3B8686" stroke-width="1.6" stroke-linecap="butt" />
<line x1="1626.56" y1="2293.21" x2="1656.24" y2="2265.21" stroke="#3B8686" stroke-width="1.6" stroke-linecap="butt" />
<line x1="1050.41" y1="2232.71" x2="1080.09" y2="2260.71" stroke="#7030A0" stroke-width="1.6" stroke-linecap="butt" />
<line x1="1050.41" y1="2260.71" x2="1080.09" y2="2232.71" stroke="#7030A0" stroke-width="1.6" stroke-linecap="butt" />
<line x1="1065.25" y1="2232.71" x2="1065.25" y2="2260.71" stroke="#7030A0" stroke-width="1.6" stroke-linecap="butt" />
<line x1="1100.51" y1="2232.71" x2="1130.19" y2="2260.71" stroke="#7030A0" stroke-width="1.6" stroke-linecap="butt" />
<line x1="1100.51" y1="2260.71" x2="1130.19" y2="2232.71" stroke="#7030A0" stroke-width="1.6" stroke-linecap="butt" />
<line x1="1115.35" y1="2232.71" x2="1115.35" y2="2260.71" stroke="#7030A0" stroke-width="1.6" stroke-linecap="butt" />
<line x1="1175.66" y1="2232.71" x2="1205.34" y2="2260.71" stroke="#7030A0" stroke-width="1.6" stroke-linecap="butt" />
<line x1="1175.66" y1="2260.71" x2="1205.34" y2="2232.71" stroke="#7030A0" stroke-width="1.6" stroke-linecap="butt" />
<line x1="1190.5" y1="2232.71" x2="1190.5" y2="2260.71" stroke="#7030A0" stroke-width="1.6" stroke-linecap="butt" />
<line x1="1325.96" y1="2246.37" x2="1355.64" y2="2274.37" stroke="#7030A0" stroke-width="1.6" stroke-linecap="butt" />
<line x1="1325.96" y1="2274.37" x2="1355.64" y2="2246.37" stroke="#7030A0" stroke-width="1.6" stroke-linecap="butt" />
<line x1="1340.8" y1="2246.37" x2="1340.8" y2="2274.37" stroke="#7030A0" stroke-width="1.6" stroke-linecap="butt" />
<line x1="1626.56" y1="2251.08" x2="1656.24" y2="2279.08" stroke="#7030A0" stroke-width="1.6" stroke-linecap="butt" />
<line x1="1626.56" y1="2279.08" x2="1656.24" y2="2251.08" stroke="#7030A0" stroke-width="1.6" stroke-linecap="butt" />
<line x1="1641.4" y1="2251.08" x2="1641.4" y2="2279.08" stroke="#7030A0" stroke-width="1.6" stroke-linecap="butt" />
<ellipse cx="1065.25" cy="1831.76" rx="15.37" ry="14.5" fill="#E36C0A"/>
<ellipse cx="1115.35" cy="1808.21" rx="15.37" ry="14.5" fill="#E36C0A"/>
<ellipse cx="1190.5" cy="1831.76" rx="15.37" ry="14.5" fill="#E36C0A"/>
<ellipse cx="1340.8" cy="1836.47" rx="15.37" ry="14.5" fill="#E36C0A"/>
<ellipse cx="1641.4" cy="1827.05" rx="15.37" ry="14.5" fill="#E36C0A"/>
<polygon points="1437.3,1976.98 1446.1,1985.6 1437.3,1994.22 1428.5,1985.6" fill="#000000"/>
<text transform="translate(1452.2,1995.1) scale(0.97,1)" font-size="26.5" fill="#000" text-anchor="start" font-weight="bold" >Con. 1a</text>
<rect x="1429.3" y="2019.1" width="16" height="16" fill="#FF0000" stroke="none" stroke-width="0" />
<text transform="translate(1452.2,2036.6) scale(0.97,1)" font-size="26.5" fill="#000" text-anchor="start" font-weight="bold" >Sel. Guaiacol</text>
<polygon points="1437.3,2061.5 1445.6,2077.27 1429,2077.27" fill="#0033CC"/>
<text transform="translate(1452.2,2079.3) scale(0.97,1)" font-size="26.5" fill="#000" text-anchor="start" font-weight="bold" >Sel. 6aa</text>
<line x1="1429.8" y1="2104.4" x2="1444.8" y2="2119.4" stroke="#3B8686" stroke-width="1.2" stroke-linecap="butt" />
<line x1="1429.8" y1="2119.4" x2="1444.8" y2="2104.4" stroke="#3B8686" stroke-width="1.2" stroke-linecap="butt" />
<text transform="translate(1452.2,2121.4) scale(0.97,1)" font-size="26.5" fill="#000" text-anchor="start" font-weight="bold" >Sel. 5a</text>
<line x1="1429.8" y1="2145.9" x2="1444.8" y2="2160.9" stroke="#7030A0" stroke-width="1.2" stroke-linecap="butt" />
<line x1="1429.8" y1="2160.9" x2="1444.8" y2="2145.9" stroke="#7030A0" stroke-width="1.2" stroke-linecap="butt" />
<line x1="1437.3" y1="2145.4" x2="1437.3" y2="2161.4" stroke="#7030A0" stroke-width="1.2" stroke-linecap="butt" />
<text transform="translate(1452.2,2162.9) scale(0.97,1)" font-size="26.5" fill="#000" text-anchor="start" font-weight="bold" >Sel. 3a</text>
<ellipse cx="1437.3" cy="2196.3" rx="8.3" ry="8.3" fill="#E36C0A"/>
<text transform="translate(1452.2,2205.8) scale(0.97,1)" font-size="26.5" fill="#000" text-anchor="start" font-weight="bold" >Sel. 4aa</text>
<rect x="1668.7" y="1806" width="120.8" height="51.5" fill="#C0C0C0" stroke="none" stroke-width="0" />
<rect x="1664.7" y="1802" width="121.4" height="51.8" fill="#8A8A8A" stroke="none" stroke-width="0" />
<rect x="1663.2" y="1800.5" width="121.3" height="51.5" fill="#FFFFFF" stroke="#555555" stroke-width="1.8" />
<text transform="translate(1726.85,1843.21)" font-size="39.6" fill="#000" text-anchor="middle" font-weight="bold" >80 <tspan dy="-15" font-size="29">o</tspan><tspan dy="15">C</tspan></text>
<text transform="translate(951.3,2055) rotate(-90) scale(1,1.07)" font-size="37.3" fill="#000" text-anchor="middle" font-weight="bold" >Conversion &amp; Selectivity / %</text>
<text transform="translate(1357,2367)" font-size="38.5" fill="#000" text-anchor="middle" font-weight="bold" >Time / h</text>
<text transform="translate(891,1804.5)" font-size="42" fill="#000" text-anchor="start" font-weight="bold" >g</text>
</svg></body></html>
